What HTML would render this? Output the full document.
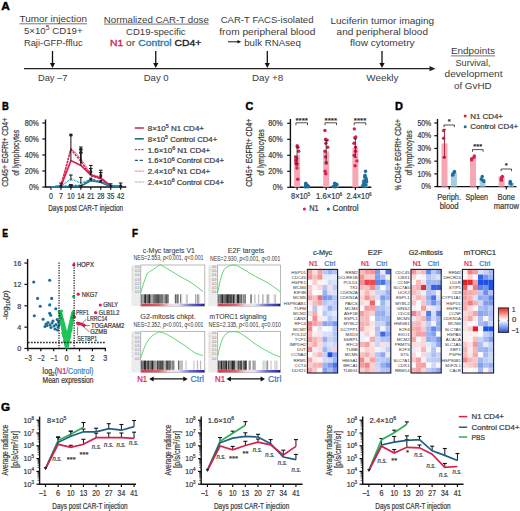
<!DOCTYPE html>
<html><head><meta charset="utf-8"><style>
html,body{margin:0;padding:0;background:#fff;width:520px;height:511px;overflow:hidden}
svg{display:block}
text{font-family:"Liberation Sans",sans-serif}
</style></head><body>
<svg width="520" height="511" viewBox="0 0 520 511" font-family="Liberation Sans, sans-serif" fill="#3b3b3b">
<rect width="520" height="511" fill="#fff"/>
<text x="1.20" y="9.60" font-size="11" textLength="8.60" lengthAdjust="spacingAndGlyphs" fill="#000" font-weight="bold" stroke="#000" stroke-width="0.45">A</text><text x="53.25" y="22.30" font-size="9.4" text-anchor="middle" textLength="67.50" lengthAdjust="spacingAndGlyphs">Tumor injection</text><line x1="19.50" y1="23.80" x2="87.00" y2="23.80" stroke="#3b3b3b" stroke-width="0.7" /><text x="53.25" y="33.90" font-size="9.4" text-anchor="middle" textLength="58.70" lengthAdjust="spacingAndGlyphs">5×10<tspan dy="-3.9" font-size="6.6">5</tspan><tspan dy="3.9"> CD19+</tspan></text><text x="53.25" y="45.50" font-size="9.4" text-anchor="middle" textLength="58.70" lengthAdjust="spacingAndGlyphs">Raji-GFP-ffluc</text><text x="156.30" y="22.80" font-size="9.4" text-anchor="middle" textLength="105.00" lengthAdjust="spacingAndGlyphs">Normalized CAR-T dose</text><line x1="103.80" y1="24.10" x2="208.75" y2="24.10" stroke="#3b3b3b" stroke-width="0.7" /><text x="155.80" y="34.90" font-size="9.4" text-anchor="middle" textLength="59.60" lengthAdjust="spacingAndGlyphs">CD19-specific</text><text x="110.00" y="46.40" font-size="9.4" textLength="91.20" lengthAdjust="spacingAndGlyphs"><tspan fill="#d8204e" stroke="#d8204e" stroke-width="0.35">N1</tspan> or <tspan fill="#2a80b0" stroke="#2a80b0" stroke-width="0.35">Control</tspan> <tspan fill="#222" stroke="#222" stroke-width="0.35">CD4+</tspan></text><text x="267.10" y="23.30" font-size="9.4" text-anchor="middle" textLength="92.80" lengthAdjust="spacingAndGlyphs">CAR-T FACS-isolated</text><text x="267.30" y="34.90" font-size="9.4" text-anchor="middle" textLength="96.00" lengthAdjust="spacingAndGlyphs">from peripheral blood</text><line x1="228.00" y1="41.80" x2="238.50" y2="41.80" stroke="#111" stroke-width="1" /><path d="M237.5,40 L241.2,41.8 L237.5,43.6 Z" stroke="none" stroke-width="1" fill="#111" /><text x="244.20" y="45.70" font-size="9.4" textLength="56.60" lengthAdjust="spacingAndGlyphs">bulk RNAseq</text><text x="382.30" y="23.80" font-size="9.4" text-anchor="middle" textLength="103.80" lengthAdjust="spacingAndGlyphs">Luciferin tumor imaging</text><text x="382.30" y="34.90" font-size="9.4" text-anchor="middle" textLength="91.40" lengthAdjust="spacingAndGlyphs">and peripheral blood</text><text x="382.30" y="45.70" font-size="9.4" text-anchor="middle" textLength="64.60" lengthAdjust="spacingAndGlyphs">flow cytometry</text><text x="473.00" y="54.20" font-size="9.4" text-anchor="middle" textLength="44.00" lengthAdjust="spacingAndGlyphs">Endpoints</text><line x1="451.00" y1="55.90" x2="495.00" y2="55.90" stroke="#3b3b3b" stroke-width="0.7" /><text x="473.00" y="66.30" font-size="9.4" text-anchor="middle" textLength="35.00" lengthAdjust="spacingAndGlyphs">Survival,</text><text x="473.50" y="77.00" font-size="9.4" text-anchor="middle" textLength="57.90" lengthAdjust="spacingAndGlyphs">development</text><text x="472.80" y="88.70" font-size="9.4" text-anchor="middle" textLength="37.70" lengthAdjust="spacingAndGlyphs">of GvHD</text><line x1="24.00" y1="68.70" x2="431.00" y2="68.70" stroke="#222" stroke-width="1.3" /><path d="M429.5,66.1 L435.5,68.7 L429.5,71.3 Z" stroke="none" stroke-width="1" fill="#222" /><line x1="52.50" y1="51.00" x2="52.50" y2="64.00" stroke="#111" stroke-width="1.3" /><path d="M49.90,63.00 L55.10,63.00 L52.50,68.00 Z" stroke="none" stroke-width="1" fill="#111" /><line x1="155.75" y1="51.00" x2="155.75" y2="64.00" stroke="#111" stroke-width="1.3" /><path d="M153.15,63.00 L158.35,63.00 L155.75,68.00 Z" stroke="none" stroke-width="1" fill="#111" /><line x1="267.30" y1="51.00" x2="267.30" y2="64.00" stroke="#111" stroke-width="1.3" /><path d="M264.70,63.00 L269.90,63.00 L267.30,68.00 Z" stroke="none" stroke-width="1" fill="#111" /><line x1="382.00" y1="51.00" x2="382.00" y2="64.00" stroke="#111" stroke-width="1.3" /><path d="M379.40,63.00 L384.60,63.00 L382.00,68.00 Z" stroke="none" stroke-width="1" fill="#111" /><text x="52.70" y="81.30" font-size="9.4" text-anchor="middle" textLength="29.50" lengthAdjust="spacingAndGlyphs">Day –7</text><text x="156.20" y="81.30" font-size="9.4" text-anchor="middle" textLength="25.00" lengthAdjust="spacingAndGlyphs">Day 0</text><text x="267.60" y="81.30" font-size="9.4" text-anchor="middle" textLength="31.30" lengthAdjust="spacingAndGlyphs">Day +8</text><text x="382.40" y="81.30" font-size="9.4" text-anchor="middle" textLength="32.20" lengthAdjust="spacingAndGlyphs">Weekly</text><text x="2.00" y="109.70" font-size="11" textLength="6.80" lengthAdjust="spacingAndGlyphs" fill="#000" font-weight="bold" stroke="#000" stroke-width="0.45">B</text><line x1="45.50" y1="119.50" x2="45.50" y2="187.50" stroke="#111" stroke-width="1.4" /><line x1="45.00" y1="187.00" x2="126.30" y2="187.00" stroke="#111" stroke-width="1.4" /><line x1="42.30" y1="187.00" x2="45.50" y2="187.00" stroke="#111" stroke-width="1.2" /><text x="38.90" y="189.70" font-size="8.5" text-anchor="end" textLength="9.90" lengthAdjust="spacingAndGlyphs" stroke="#3b3b3b" stroke-width="0.22">0%</text><line x1="42.30" y1="171.00" x2="45.50" y2="171.00" stroke="#111" stroke-width="1.2" /><text x="38.90" y="173.70" font-size="8.5" text-anchor="end" textLength="14.20" lengthAdjust="spacingAndGlyphs" stroke="#3b3b3b" stroke-width="0.22">20%</text><line x1="42.30" y1="155.00" x2="45.50" y2="155.00" stroke="#111" stroke-width="1.2" /><text x="38.90" y="157.70" font-size="8.5" text-anchor="end" textLength="14.20" lengthAdjust="spacingAndGlyphs" stroke="#3b3b3b" stroke-width="0.22">40%</text><line x1="42.30" y1="139.00" x2="45.50" y2="139.00" stroke="#111" stroke-width="1.2" /><text x="38.90" y="141.70" font-size="8.5" text-anchor="end" textLength="14.20" lengthAdjust="spacingAndGlyphs" stroke="#3b3b3b" stroke-width="0.22">60%</text><line x1="42.30" y1="123.00" x2="45.50" y2="123.00" stroke="#111" stroke-width="1.2" /><text x="38.90" y="125.70" font-size="8.5" text-anchor="end" textLength="14.20" lengthAdjust="spacingAndGlyphs" stroke="#3b3b3b" stroke-width="0.22">80%</text><line x1="51.00" y1="187.00" x2="51.00" y2="189.80" stroke="#111" stroke-width="1.2" /><text x="51.00" y="199.20" font-size="8.5" text-anchor="middle" textLength="4.00" lengthAdjust="spacingAndGlyphs" stroke="#3b3b3b" stroke-width="0.22">0</text><line x1="60.95" y1="187.00" x2="60.95" y2="189.80" stroke="#111" stroke-width="1.2" /><text x="60.95" y="199.20" font-size="8.5" text-anchor="middle" textLength="4.00" lengthAdjust="spacingAndGlyphs" stroke="#3b3b3b" stroke-width="0.22">7</text><line x1="70.90" y1="187.00" x2="70.90" y2="189.80" stroke="#111" stroke-width="1.2" /><text x="70.90" y="199.20" font-size="8.5" text-anchor="middle" textLength="7.20" lengthAdjust="spacingAndGlyphs" stroke="#3b3b3b" stroke-width="0.22">10</text><line x1="80.85" y1="187.00" x2="80.85" y2="189.80" stroke="#111" stroke-width="1.2" /><text x="80.85" y="199.20" font-size="8.5" text-anchor="middle" textLength="7.20" lengthAdjust="spacingAndGlyphs" stroke="#3b3b3b" stroke-width="0.22">14</text><line x1="90.80" y1="187.00" x2="90.80" y2="189.80" stroke="#111" stroke-width="1.2" /><text x="90.80" y="199.20" font-size="8.5" text-anchor="middle" textLength="7.20" lengthAdjust="spacingAndGlyphs" stroke="#3b3b3b" stroke-width="0.22">21</text><line x1="100.75" y1="187.00" x2="100.75" y2="189.80" stroke="#111" stroke-width="1.2" /><text x="100.75" y="199.20" font-size="8.5" text-anchor="middle" textLength="7.20" lengthAdjust="spacingAndGlyphs" stroke="#3b3b3b" stroke-width="0.22">28</text><line x1="110.70" y1="187.00" x2="110.70" y2="189.80" stroke="#111" stroke-width="1.2" /><text x="110.70" y="199.20" font-size="8.5" text-anchor="middle" textLength="7.20" lengthAdjust="spacingAndGlyphs" stroke="#3b3b3b" stroke-width="0.22">35</text><line x1="120.65" y1="187.00" x2="120.65" y2="189.80" stroke="#111" stroke-width="1.2" /><text x="120.65" y="199.20" font-size="8.5" text-anchor="middle" textLength="7.20" lengthAdjust="spacingAndGlyphs" stroke="#3b3b3b" stroke-width="0.22">42</text><text x="8.30" y="152.30" font-size="8.8" text-anchor="middle" textLength="69.00" lengthAdjust="spacingAndGlyphs" stroke="#3b3b3b" stroke-width="0.22" transform="rotate(-90 8.30 152.30)">CD45+ EGFRt+ CD4+</text><text x="18.80" y="152.80" font-size="8.8" text-anchor="middle" textLength="46.00" lengthAdjust="spacingAndGlyphs" stroke="#3b3b3b" stroke-width="0.22" transform="rotate(-90 18.80 152.80)">of lymphocytes</text><text x="85.70" y="211.40" font-size="8.5" text-anchor="middle" textLength="75.00" lengthAdjust="spacingAndGlyphs" stroke="#3b3b3b" stroke-width="0.22">Days post CAR-T injection</text><path d="M51.00,187.00 L60.95,186.20 L70.90,160.60 L80.85,165.40 L90.80,175.00 L100.75,178.20 L110.70,185.80 L120.65,186.36" stroke="#d8204e" stroke-width="1.7" fill="none" /><path d="M51.00,187.00 L60.95,186.20 L70.90,149.40 L80.85,161.40 L90.80,175.80 L100.75,179.00 L110.70,186.20 L120.65,186.60" stroke="#d8204e" stroke-width="1.5" fill="none" stroke-dasharray="2.2,1.2"/><path d="M51.00,187.00 L60.95,186.20 L70.90,148.60 L80.85,159.00 L90.80,174.20 L100.75,177.40 L110.70,186.20 L120.65,186.60" stroke="#d8204e" stroke-width="1.5" fill="none" stroke-dasharray="0.8,0.8"/><path d="M51.00,187.00 L60.95,186.76 L70.90,186.60 L80.85,186.20 L90.80,180.60 L100.75,182.20 L110.70,186.60 L120.65,186.76" stroke="#1f6f80" stroke-width="1.7" fill="none" /><path d="M51.00,187.00 L60.95,186.60 L70.90,185.40 L80.85,185.40 L90.80,179.00 L100.75,181.40 L110.70,186.20 L120.65,186.60" stroke="#2a7ab0" stroke-width="1.5" fill="none" stroke-dasharray="2.2,1.2"/><path d="M51.00,187.00 L60.95,186.20 L70.90,179.00 L80.85,183.00 L90.80,179.80 L100.75,182.20 L110.70,186.20 L120.65,186.60" stroke="#2a8ab0" stroke-width="1.5" fill="none" stroke-dasharray="0.8,0.8"/><line x1="70.90" y1="160.60" x2="70.90" y2="135.00" stroke="#111" stroke-width="1.0" /><line x1="69.10" y1="135.00" x2="72.70" y2="135.00" stroke="#111" stroke-width="1.0" /><line x1="80.85" y1="165.40" x2="80.85" y2="147.00" stroke="#111" stroke-width="1.0" /><line x1="79.05" y1="147.00" x2="82.65" y2="147.00" stroke="#111" stroke-width="1.0" /><line x1="80.85" y1="163.00" x2="80.85" y2="149.40" stroke="#111" stroke-width="1.0" /><line x1="79.05" y1="149.40" x2="82.65" y2="149.40" stroke="#111" stroke-width="1.0" /><line x1="80.85" y1="163.00" x2="80.85" y2="152.60" stroke="#111" stroke-width="1.0" /><line x1="79.05" y1="152.60" x2="82.65" y2="152.60" stroke="#111" stroke-width="1.0" /><line x1="90.80" y1="175.00" x2="90.80" y2="165.40" stroke="#111" stroke-width="1.0" /><line x1="89.00" y1="165.40" x2="92.60" y2="165.40" stroke="#111" stroke-width="1.0" /><line x1="90.80" y1="175.00" x2="90.80" y2="168.60" stroke="#111" stroke-width="1.0" /><line x1="89.00" y1="168.60" x2="92.60" y2="168.60" stroke="#111" stroke-width="1.0" /><line x1="100.75" y1="178.20" x2="100.75" y2="170.20" stroke="#111" stroke-width="1.0" /><line x1="98.95" y1="170.20" x2="102.55" y2="170.20" stroke="#111" stroke-width="1.0" /><line x1="100.75" y1="178.20" x2="100.75" y2="172.60" stroke="#111" stroke-width="1.0" /><line x1="98.95" y1="172.60" x2="102.55" y2="172.60" stroke="#111" stroke-width="1.0" /><line x1="110.70" y1="186.20" x2="110.70" y2="183.80" stroke="#111" stroke-width="1.0" /><line x1="108.90" y1="183.80" x2="112.50" y2="183.80" stroke="#111" stroke-width="1.0" /><line x1="120.65" y1="186.20" x2="120.65" y2="183.00" stroke="#111" stroke-width="1.0" /><line x1="118.85" y1="183.00" x2="122.45" y2="183.00" stroke="#111" stroke-width="1.0" /><line x1="60.95" y1="186.20" x2="60.95" y2="183.00" stroke="#111" stroke-width="1.0" /><line x1="59.15" y1="183.00" x2="62.75" y2="183.00" stroke="#111" stroke-width="1.0" /><line x1="70.90" y1="180.60" x2="70.90" y2="175.00" stroke="#111" stroke-width="1.0" /><line x1="69.10" y1="175.00" x2="72.70" y2="175.00" stroke="#111" stroke-width="1.0" /><line x1="80.85" y1="183.80" x2="80.85" y2="177.40" stroke="#111" stroke-width="1.0" /><line x1="79.05" y1="177.40" x2="82.65" y2="177.40" stroke="#111" stroke-width="1.0" /><line x1="70.90" y1="186.20" x2="70.90" y2="184.60" stroke="#111" stroke-width="1.0" /><line x1="69.10" y1="184.60" x2="72.70" y2="184.60" stroke="#111" stroke-width="1.0" /><rect x="69.50" y="133.60" width="2.80" height="2.80" fill="#222" /><rect x="79.45" y="148.00" width="2.80" height="2.80" fill="#222" /><rect x="79.45" y="151.20" width="2.80" height="2.80" fill="#222" /><rect x="89.40" y="170.40" width="2.80" height="2.80" fill="#222" /><rect x="99.35" y="174.40" width="2.80" height="2.80" fill="#222" /><rect x="69.50" y="184.00" width="2.80" height="2.80" fill="#222" /><rect x="89.40" y="177.60" width="2.80" height="2.80" fill="#222" /><rect x="99.35" y="180.00" width="2.80" height="2.80" fill="#222" /><rect x="109.30" y="184.80" width="2.80" height="2.80" fill="#222" /><rect x="119.25" y="184.80" width="2.80" height="2.80" fill="#222" /><rect x="59.55" y="184.80" width="2.80" height="2.80" fill="#222" /><rect x="69.50" y="185.20" width="2.80" height="2.80" fill="#222" /><rect x="79.45" y="184.80" width="2.80" height="2.80" fill="#222" /><line x1="134.80" y1="128.00" x2="143.80" y2="128.00" stroke="#c8305a" stroke-width="1.6" /><text x="147.70" y="130.90" font-size="7.4" textLength="56.30" lengthAdjust="spacingAndGlyphs" stroke="#3b3b3b" stroke-width="0.22">8×10<tspan dy="-2.8" font-size="5">5</tspan><tspan dy="2.8"> N1 CD4+</tspan></text><line x1="134.80" y1="138.80" x2="143.80" y2="138.80" stroke="#2a6e78" stroke-width="1.6" /><text x="147.70" y="141.70" font-size="7.4" textLength="69.50" lengthAdjust="spacingAndGlyphs" stroke="#3b3b3b" stroke-width="0.22">8×10<tspan dy="-2.8" font-size="5">5</tspan><tspan dy="2.8"> Control CD4+</tspan></text><line x1="134.80" y1="149.60" x2="143.80" y2="149.60" stroke="#c04868" stroke-width="1.2" stroke-dasharray="2.2,1.1"/><text x="147.70" y="152.50" font-size="7.4" textLength="62.50" lengthAdjust="spacingAndGlyphs" stroke="#3b3b3b" stroke-width="0.22">1.6×10<tspan dy="-2.8" font-size="5">6</tspan><tspan dy="2.8"> N1 CD4+</tspan></text><line x1="134.80" y1="160.40" x2="143.80" y2="160.40" stroke="#245e78" stroke-width="1.2" stroke-dasharray="3.2,1.6"/><text x="147.70" y="163.30" font-size="7.4" textLength="76.30" lengthAdjust="spacingAndGlyphs" stroke="#3b3b3b" stroke-width="0.22">1.6×10<tspan dy="-2.8" font-size="5">6</tspan><tspan dy="2.8"> Control CD4+</tspan></text><line x1="134.80" y1="171.20" x2="143.80" y2="171.20" stroke="#e07090" stroke-width="1.2" stroke-dasharray="0.8,0.6"/><text x="147.70" y="174.10" font-size="7.4" textLength="62.50" lengthAdjust="spacingAndGlyphs" stroke="#3b3b3b" stroke-width="0.22">2.4×10<tspan dy="-2.8" font-size="5">6</tspan><tspan dy="2.8"> N1 CD4+</tspan></text><line x1="134.80" y1="182.00" x2="143.80" y2="182.00" stroke="#8090a0" stroke-width="1.2" stroke-dasharray="0.8,0.6"/><text x="147.70" y="184.90" font-size="7.4" textLength="76.30" lengthAdjust="spacingAndGlyphs" stroke="#3b3b3b" stroke-width="0.22">2.4×10<tspan dy="-2.8" font-size="5">6</tspan><tspan dy="2.8"> Control CD4+</tspan></text><text x="245.50" y="110.00" font-size="11" textLength="7.80" lengthAdjust="spacingAndGlyphs" fill="#000" font-weight="bold" stroke="#000" stroke-width="0.45">C</text><line x1="290.40" y1="119.00" x2="290.40" y2="187.80" stroke="#111" stroke-width="1.4" /><line x1="289.90" y1="187.30" x2="371.30" y2="187.30" stroke="#111" stroke-width="1.4" /><line x1="287.20" y1="187.30" x2="290.40" y2="187.30" stroke="#111" stroke-width="1.2" /><text x="282.60" y="190.00" font-size="8.5" text-anchor="end" textLength="9.90" lengthAdjust="spacingAndGlyphs" stroke="#3b3b3b" stroke-width="0.22">0%</text><line x1="287.20" y1="171.30" x2="290.40" y2="171.30" stroke="#111" stroke-width="1.2" /><text x="282.60" y="174.00" font-size="8.5" text-anchor="end" textLength="14.40" lengthAdjust="spacingAndGlyphs" stroke="#3b3b3b" stroke-width="0.22">20%</text><line x1="287.20" y1="155.30" x2="290.40" y2="155.30" stroke="#111" stroke-width="1.2" /><text x="282.60" y="158.00" font-size="8.5" text-anchor="end" textLength="14.40" lengthAdjust="spacingAndGlyphs" stroke="#3b3b3b" stroke-width="0.22">40%</text><line x1="287.20" y1="139.30" x2="290.40" y2="139.30" stroke="#111" stroke-width="1.2" /><text x="282.60" y="142.00" font-size="8.5" text-anchor="end" textLength="14.40" lengthAdjust="spacingAndGlyphs" stroke="#3b3b3b" stroke-width="0.22">60%</text><line x1="287.20" y1="123.30" x2="290.40" y2="123.30" stroke="#111" stroke-width="1.2" /><text x="282.60" y="126.00" font-size="8.5" text-anchor="end" textLength="14.40" lengthAdjust="spacingAndGlyphs" stroke="#3b3b3b" stroke-width="0.22">80%</text><text x="252.50" y="152.80" font-size="8.8" text-anchor="middle" textLength="68.00" lengthAdjust="spacingAndGlyphs" stroke="#3b3b3b" stroke-width="0.22" transform="rotate(-90 252.50 152.80)">CD45+ EGFRt+ CD4+</text><text x="263.50" y="152.50" font-size="8.8" text-anchor="middle" textLength="46.70" lengthAdjust="spacingAndGlyphs" stroke="#3b3b3b" stroke-width="0.22" transform="rotate(-90 263.50 152.50)">of lymphocytes</text><rect x="294.10" y="155.30" width="6.00" height="32.00" fill="#f7a8b6" /><rect x="303.30" y="185.70" width="6.00" height="1.60" fill="#a9cde0" /><circle cx="297.18" cy="145.70" r="1.7" fill="#d8204e" /><circle cx="297.89" cy="147.30" r="1.7" fill="#d8204e" /><circle cx="298.65" cy="151.30" r="1.7" fill="#d8204e" /><circle cx="295.63" cy="156.90" r="1.7" fill="#d8204e" /><circle cx="296.53" cy="158.50" r="1.7" fill="#d8204e" /><circle cx="295.85" cy="160.10" r="1.7" fill="#d8204e" /><circle cx="296.03" cy="160.90" r="1.7" fill="#d8204e" /><circle cx="296.04" cy="163.30" r="1.7" fill="#d8204e" /><circle cx="296.76" cy="164.90" r="1.7" fill="#d8204e" /><circle cx="296.95" cy="168.10" r="1.7" fill="#d8204e" /><circle cx="297.77" cy="179.30" r="1.7" fill="#d8204e" /><circle cx="305.84" cy="183.30" r="1.7" fill="#1d6d9a" /><circle cx="305.56" cy="184.10" r="1.7" fill="#1d6d9a" /><circle cx="306.53" cy="184.90" r="1.7" fill="#1d6d9a" /><circle cx="306.50" cy="185.30" r="1.7" fill="#1d6d9a" /><circle cx="307.41" cy="185.70" r="1.7" fill="#1d6d9a" /><circle cx="308.44" cy="186.10" r="1.7" fill="#1d6d9a" /><circle cx="305.71" cy="186.50" r="1.7" fill="#1d6d9a" /><circle cx="308.02" cy="186.90" r="1.7" fill="#1d6d9a" /><circle cx="305.29" cy="186.90" r="1.7" fill="#1d6d9a" /><circle cx="305.98" cy="186.50" r="1.7" fill="#1d6d9a" /><circle cx="307.01" cy="185.70" r="1.7" fill="#1d6d9a" /><line x1="297.10" y1="163.70" x2="297.10" y2="146.90" stroke="#222" stroke-width="0.8" /><line x1="295.50" y1="146.90" x2="298.70" y2="146.90" stroke="#222" stroke-width="0.8" /><line x1="295.50" y1="163.70" x2="298.70" y2="163.70" stroke="#222" stroke-width="0.8" /><line x1="297.10" y1="187.30" x2="297.10" y2="190.10" stroke="#111" stroke-width="1.2" /><path d="M295.90,125.2 L295.90,122.8 L307.50,122.8 L307.50,125.2" stroke="#222" stroke-width="0.8" fill="none" /><text x="301.70" y="122.60" font-size="8" text-anchor="middle" textLength="12.50" lengthAdjust="spacingAndGlyphs" fill="#222" stroke="#222" stroke-width="0.22">****</text><rect x="323.20" y="151.30" width="6.00" height="36.00" fill="#f7a8b6" /><rect x="332.30" y="184.90" width="6.00" height="2.40" fill="#a9cde0" /><circle cx="324.93" cy="130.50" r="1.7" fill="#d8204e" /><circle cx="325.59" cy="139.30" r="1.7" fill="#d8204e" /><circle cx="327.17" cy="140.10" r="1.7" fill="#d8204e" /><circle cx="325.90" cy="143.30" r="1.7" fill="#d8204e" /><circle cx="327.69" cy="147.30" r="1.7" fill="#d8204e" /><circle cx="324.91" cy="151.30" r="1.7" fill="#d8204e" /><circle cx="325.44" cy="156.90" r="1.7" fill="#d8204e" /><circle cx="326.22" cy="163.30" r="1.7" fill="#d8204e" /><circle cx="325.14" cy="171.30" r="1.7" fill="#d8204e" /><circle cx="325.79" cy="173.70" r="1.7" fill="#d8204e" /><circle cx="334.67" cy="183.30" r="1.7" fill="#1d6d9a" /><circle cx="336.53" cy="184.10" r="1.7" fill="#1d6d9a" /><circle cx="336.83" cy="184.50" r="1.7" fill="#1d6d9a" /><circle cx="336.52" cy="184.90" r="1.7" fill="#1d6d9a" /><circle cx="334.46" cy="185.70" r="1.7" fill="#1d6d9a" /><circle cx="334.35" cy="186.10" r="1.7" fill="#1d6d9a" /><circle cx="333.30" cy="186.50" r="1.7" fill="#1d6d9a" /><circle cx="335.22" cy="186.90" r="1.7" fill="#1d6d9a" /><circle cx="334.85" cy="185.30" r="1.7" fill="#1d6d9a" /><line x1="326.20" y1="162.10" x2="326.20" y2="140.50" stroke="#222" stroke-width="0.8" /><line x1="324.60" y1="140.50" x2="327.80" y2="140.50" stroke="#222" stroke-width="0.8" /><line x1="324.60" y1="162.10" x2="327.80" y2="162.10" stroke="#222" stroke-width="0.8" /><line x1="326.20" y1="187.30" x2="326.20" y2="190.10" stroke="#111" stroke-width="1.2" /><path d="M325.00,125.2 L325.00,122.8 L336.50,122.8 L336.50,125.2" stroke="#222" stroke-width="0.8" fill="none" /><text x="330.75" y="122.60" font-size="8" text-anchor="middle" textLength="12.50" lengthAdjust="spacingAndGlyphs" fill="#222" stroke="#222" stroke-width="0.22">****</text><rect x="352.40" y="148.10" width="6.00" height="39.20" fill="#f7a8b6" /><rect x="361.60" y="180.90" width="6.00" height="6.40" fill="#a9cde0" /><circle cx="354.31" cy="128.90" r="1.7" fill="#d8204e" /><circle cx="355.77" cy="136.90" r="1.7" fill="#d8204e" /><circle cx="354.88" cy="137.70" r="1.7" fill="#d8204e" /><circle cx="353.96" cy="143.30" r="1.7" fill="#d8204e" /><circle cx="355.58" cy="147.30" r="1.7" fill="#d8204e" /><circle cx="355.51" cy="151.30" r="1.7" fill="#d8204e" /><circle cx="354.13" cy="155.30" r="1.7" fill="#d8204e" /><circle cx="356.86" cy="160.90" r="1.7" fill="#d8204e" /><circle cx="355.05" cy="165.70" r="1.7" fill="#d8204e" /><circle cx="365.54" cy="171.30" r="1.7" fill="#1d6d9a" /><circle cx="365.00" cy="175.30" r="1.7" fill="#1d6d9a" /><circle cx="364.56" cy="176.90" r="1.7" fill="#1d6d9a" /><circle cx="365.85" cy="177.70" r="1.7" fill="#1d6d9a" /><circle cx="366.22" cy="179.30" r="1.7" fill="#1d6d9a" /><circle cx="365.95" cy="180.10" r="1.7" fill="#1d6d9a" /><circle cx="363.81" cy="180.90" r="1.7" fill="#1d6d9a" /><circle cx="366.70" cy="181.70" r="1.7" fill="#1d6d9a" /><circle cx="363.96" cy="183.30" r="1.7" fill="#1d6d9a" /><circle cx="365.88" cy="184.90" r="1.7" fill="#1d6d9a" /><circle cx="363.86" cy="186.50" r="1.7" fill="#1d6d9a" /><circle cx="362.69" cy="185.70" r="1.7" fill="#1d6d9a" /><line x1="355.40" y1="157.30" x2="355.40" y2="138.90" stroke="#222" stroke-width="0.8" /><line x1="353.80" y1="138.90" x2="357.00" y2="138.90" stroke="#222" stroke-width="0.8" /><line x1="353.80" y1="157.30" x2="357.00" y2="157.30" stroke="#222" stroke-width="0.8" /><line x1="355.40" y1="187.30" x2="355.40" y2="190.10" stroke="#111" stroke-width="1.2" /><path d="M354.20,125.2 L354.20,122.8 L365.80,122.8 L365.80,125.2" stroke="#222" stroke-width="0.8" fill="none" /><text x="360.00" y="122.60" font-size="8" text-anchor="middle" textLength="12.50" lengthAdjust="spacingAndGlyphs" fill="#222" stroke="#222" stroke-width="0.22">****</text><text x="300.50" y="198.50" font-size="8.5" text-anchor="middle" textLength="19.00" lengthAdjust="spacingAndGlyphs" stroke="#3b3b3b" stroke-width="0.22">8×10<tspan dy="-2.6" font-size="4.6">5</tspan></text><text x="329.00" y="198.50" font-size="8.5" text-anchor="middle" textLength="26.00" lengthAdjust="spacingAndGlyphs" stroke="#3b3b3b" stroke-width="0.22">1.6×10<tspan dy="-2.6" font-size="4.6">6</tspan></text><text x="359.00" y="198.50" font-size="8.5" text-anchor="middle" textLength="25.00" lengthAdjust="spacingAndGlyphs" stroke="#3b3b3b" stroke-width="0.22">2.4×10<tspan dy="-2.6" font-size="4.6">6</tspan></text><circle cx="304.40" cy="208.90" r="1.5" fill="#d8204e" /><text x="309.20" y="211.00" font-size="8.8" textLength="9.50" lengthAdjust="spacingAndGlyphs" stroke="#3b3b3b" stroke-width="0.22">N1</text><circle cx="328.30" cy="208.90" r="1.5" fill="#1d6d9a" /><text x="332.60" y="211.00" font-size="8.8" textLength="26.00" lengthAdjust="spacingAndGlyphs" stroke="#3b3b3b" stroke-width="0.22">Control</text><text x="394.90" y="109.80" font-size="11" textLength="7.90" lengthAdjust="spacingAndGlyphs" fill="#000" font-weight="bold" stroke="#000" stroke-width="0.45">D</text><line x1="437.50" y1="119.00" x2="437.50" y2="187.10" stroke="#111" stroke-width="1.4" /><line x1="437.00" y1="186.60" x2="516.50" y2="186.60" stroke="#111" stroke-width="1.4" /><line x1="434.30" y1="186.60" x2="437.50" y2="186.60" stroke="#111" stroke-width="1.2" /><text x="431.20" y="189.30" font-size="8.5" text-anchor="end" textLength="9.90" lengthAdjust="spacingAndGlyphs" stroke="#3b3b3b" stroke-width="0.22">0%</text><line x1="434.30" y1="173.88" x2="437.50" y2="173.88" stroke="#111" stroke-width="1.2" /><text x="431.20" y="176.58" font-size="8.5" text-anchor="end" textLength="13.80" lengthAdjust="spacingAndGlyphs" stroke="#3b3b3b" stroke-width="0.22">10%</text><line x1="434.30" y1="161.16" x2="437.50" y2="161.16" stroke="#111" stroke-width="1.2" /><text x="431.20" y="163.86" font-size="8.5" text-anchor="end" textLength="13.80" lengthAdjust="spacingAndGlyphs" stroke="#3b3b3b" stroke-width="0.22">20%</text><line x1="434.30" y1="148.44" x2="437.50" y2="148.44" stroke="#111" stroke-width="1.2" /><text x="431.20" y="151.14" font-size="8.5" text-anchor="end" textLength="13.80" lengthAdjust="spacingAndGlyphs" stroke="#3b3b3b" stroke-width="0.22">30%</text><line x1="434.30" y1="135.72" x2="437.50" y2="135.72" stroke="#111" stroke-width="1.2" /><text x="431.20" y="138.42" font-size="8.5" text-anchor="end" textLength="13.80" lengthAdjust="spacingAndGlyphs" stroke="#3b3b3b" stroke-width="0.22">40%</text><line x1="434.30" y1="123.00" x2="437.50" y2="123.00" stroke="#111" stroke-width="1.2" /><text x="431.20" y="125.70" font-size="8.5" text-anchor="end" textLength="13.80" lengthAdjust="spacingAndGlyphs" stroke="#3b3b3b" stroke-width="0.22">50%</text><text x="401.40" y="154.80" font-size="8.8" text-anchor="middle" textLength="71.40" lengthAdjust="spacingAndGlyphs" stroke="#3b3b3b" stroke-width="0.22" transform="rotate(-90 401.40 154.80)">% CD45+ EGFRt+ CD4+</text><text x="412.00" y="153.00" font-size="8.8" text-anchor="middle" textLength="45.00" lengthAdjust="spacingAndGlyphs" stroke="#3b3b3b" stroke-width="0.22" transform="rotate(-90 412.00 153.00)">of lymphocytes</text><rect x="441.50" y="143.35" width="6.00" height="43.25" fill="#f7a8b6" /><rect x="450.90" y="172.61" width="6.00" height="13.99" fill="#a9cde0" /><circle cx="443.63" cy="130.63" r="1.7" fill="#d8204e" /><circle cx="443.64" cy="138.26" r="1.7" fill="#d8204e" /><circle cx="444.18" cy="157.34" r="1.7" fill="#d8204e" /><circle cx="454.45" cy="171.34" r="1.7" fill="#1d6d9a" /><circle cx="454.16" cy="172.61" r="1.7" fill="#1d6d9a" /><circle cx="452.98" cy="173.88" r="1.7" fill="#1d6d9a" /><circle cx="452.62" cy="175.15" r="1.7" fill="#1d6d9a" /><line x1="444.50" y1="157.34" x2="444.50" y2="129.36" stroke="#a01838" stroke-width="0.9" /><line x1="443.00" y1="129.36" x2="446.00" y2="129.36" stroke="#a01838" stroke-width="0.9" /><line x1="443.00" y1="157.34" x2="446.00" y2="157.34" stroke="#a01838" stroke-width="0.9" /><line x1="449.20" y1="186.60" x2="449.20" y2="189.40" stroke="#111" stroke-width="1.2" /><path d="M444.00,127.20 L444.00,125.00 L454.40,125.00 L454.40,127.20" stroke="#222" stroke-width="0.8" fill="none" /><text x="449.20" y="124.20" font-size="7" text-anchor="middle" textLength="3.00" lengthAdjust="spacingAndGlyphs" fill="#222" stroke="#222" stroke-width="0.22">*</text><rect x="470.00" y="157.34" width="6.00" height="29.26" fill="#f7a8b6" /><rect x="479.60" y="178.97" width="6.00" height="7.63" fill="#a9cde0" /><circle cx="474.30" cy="156.07" r="1.7" fill="#d8204e" /><circle cx="473.94" cy="157.34" r="1.7" fill="#d8204e" /><circle cx="471.92" cy="158.62" r="1.7" fill="#d8204e" /><circle cx="471.66" cy="159.89" r="1.7" fill="#d8204e" /><circle cx="482.25" cy="176.42" r="1.7" fill="#1d6d9a" /><circle cx="481.21" cy="178.97" r="1.7" fill="#1d6d9a" /><circle cx="482.78" cy="180.24" r="1.7" fill="#1d6d9a" /><circle cx="483.83" cy="181.51" r="1.7" fill="#1d6d9a" /><line x1="477.80" y1="186.60" x2="477.80" y2="189.40" stroke="#111" stroke-width="1.2" /><path d="M472.50,151.80 L472.50,149.60 L483.10,149.60 L483.10,151.80" stroke="#222" stroke-width="0.8" fill="none" /><text x="477.80" y="148.80" font-size="7" text-anchor="middle" textLength="9.00" lengthAdjust="spacingAndGlyphs" fill="#222" stroke="#222" stroke-width="0.22">***</text><rect x="498.60" y="176.42" width="6.00" height="10.18" fill="#f7a8b6" /><rect x="508.00" y="182.78" width="6.00" height="3.82" fill="#a9cde0" /><circle cx="502.32" cy="176.42" r="1.7" fill="#d8204e" /><circle cx="501.57" cy="177.70" r="1.7" fill="#d8204e" /><circle cx="501.27" cy="178.97" r="1.7" fill="#d8204e" /><circle cx="501.36" cy="180.24" r="1.7" fill="#d8204e" /><circle cx="510.26" cy="181.51" r="1.7" fill="#1d6d9a" /><circle cx="510.16" cy="182.78" r="1.7" fill="#1d6d9a" /><circle cx="511.08" cy="184.06" r="1.7" fill="#1d6d9a" /><line x1="506.30" y1="186.60" x2="506.30" y2="189.40" stroke="#111" stroke-width="1.2" /><path d="M501.10,171.20 L501.10,169.00 L511.50,169.00 L511.50,171.20" stroke="#222" stroke-width="0.8" fill="none" /><text x="506.30" y="168.20" font-size="7" text-anchor="middle" textLength="3.00" lengthAdjust="spacingAndGlyphs" fill="#222" stroke="#222" stroke-width="0.22">*</text><circle cx="465.20" cy="116.10" r="1.5" fill="#d8204e" /><text x="470.20" y="118.60" font-size="7.9" textLength="32.80" lengthAdjust="spacingAndGlyphs" stroke="#3b3b3b" stroke-width="0.22">N1 CD4+</text><circle cx="465.20" cy="126.70" r="1.5" fill="#1d6d9a" /><text x="470.20" y="128.90" font-size="7.9" textLength="48.00" lengthAdjust="spacingAndGlyphs" stroke="#3b3b3b" stroke-width="0.22">Control CD4+</text><text x="449.20" y="199.80" font-size="8.5" text-anchor="middle" textLength="23.70" lengthAdjust="spacingAndGlyphs" stroke="#3b3b3b" stroke-width="0.22">Periph.</text><text x="449.20" y="208.70" font-size="8.5" text-anchor="middle" textLength="19.00" lengthAdjust="spacingAndGlyphs" stroke="#3b3b3b" stroke-width="0.22">blood</text><text x="476.80" y="199.80" font-size="8.5" text-anchor="middle" textLength="22.50" lengthAdjust="spacingAndGlyphs" stroke="#3b3b3b" stroke-width="0.22">Spleen</text><text x="506.20" y="199.80" font-size="8.5" text-anchor="middle" textLength="17.30" lengthAdjust="spacingAndGlyphs" stroke="#3b3b3b" stroke-width="0.22">Bone</text><text x="506.40" y="208.70" font-size="8.5" text-anchor="middle" textLength="25.30" lengthAdjust="spacingAndGlyphs" stroke="#3b3b3b" stroke-width="0.22">marrow</text><text x="2.20" y="236.50" font-size="11" textLength="5.80" lengthAdjust="spacingAndGlyphs" fill="#000" font-weight="bold" stroke="#000" stroke-width="0.45">E</text><line x1="27.60" y1="259.00" x2="27.60" y2="349.00" stroke="#111" stroke-width="1.4" /><line x1="27.10" y1="348.50" x2="106.00" y2="348.50" stroke="#111" stroke-width="1.4" /><line x1="24.40" y1="348.50" x2="27.60" y2="348.50" stroke="#111" stroke-width="1.2" /><text x="21.20" y="351.30" font-size="7.6" text-anchor="end" textLength="4.00" lengthAdjust="spacingAndGlyphs" stroke="#3b3b3b" stroke-width="0.22">0</text><line x1="24.40" y1="327.14" x2="27.60" y2="327.14" stroke="#111" stroke-width="1.2" /><text x="21.20" y="329.94" font-size="7.6" text-anchor="end" textLength="4.00" lengthAdjust="spacingAndGlyphs" stroke="#3b3b3b" stroke-width="0.22">4</text><line x1="24.40" y1="305.78" x2="27.60" y2="305.78" stroke="#111" stroke-width="1.2" /><text x="21.20" y="308.58" font-size="7.6" text-anchor="end" textLength="4.00" lengthAdjust="spacingAndGlyphs" stroke="#3b3b3b" stroke-width="0.22">8</text><line x1="24.40" y1="284.42" x2="27.60" y2="284.42" stroke="#111" stroke-width="1.2" /><text x="21.20" y="287.22" font-size="7.6" text-anchor="end" textLength="7.60" lengthAdjust="spacingAndGlyphs" stroke="#3b3b3b" stroke-width="0.22">12</text><line x1="24.40" y1="263.06" x2="27.60" y2="263.06" stroke="#111" stroke-width="1.2" /><text x="21.20" y="265.86" font-size="7.6" text-anchor="end" textLength="7.60" lengthAdjust="spacingAndGlyphs" stroke="#3b3b3b" stroke-width="0.22">16</text><line x1="27.90" y1="348.50" x2="27.90" y2="351.30" stroke="#111" stroke-width="1.2" /><text x="28.30" y="361.00" font-size="8.2" text-anchor="middle" textLength="6.90" lengthAdjust="spacingAndGlyphs" stroke="#3b3b3b" stroke-width="0.22">−3</text><line x1="40.80" y1="348.50" x2="40.80" y2="351.30" stroke="#111" stroke-width="1.2" /><text x="41.20" y="361.00" font-size="8.2" text-anchor="middle" textLength="6.90" lengthAdjust="spacingAndGlyphs" stroke="#3b3b3b" stroke-width="0.22">−2</text><line x1="53.70" y1="348.50" x2="53.70" y2="351.30" stroke="#111" stroke-width="1.2" /><text x="54.10" y="361.00" font-size="8.2" text-anchor="middle" textLength="6.90" lengthAdjust="spacingAndGlyphs" stroke="#3b3b3b" stroke-width="0.22">−1</text><line x1="66.60" y1="348.50" x2="66.60" y2="351.30" stroke="#111" stroke-width="1.2" /><text x="66.60" y="361.00" font-size="8.2" text-anchor="middle" textLength="4.00" lengthAdjust="spacingAndGlyphs" stroke="#3b3b3b" stroke-width="0.22">0</text><line x1="79.50" y1="348.50" x2="79.50" y2="351.30" stroke="#111" stroke-width="1.2" /><text x="79.50" y="361.00" font-size="8.2" text-anchor="middle" textLength="4.00" lengthAdjust="spacingAndGlyphs" stroke="#3b3b3b" stroke-width="0.22">1</text><line x1="92.40" y1="348.50" x2="92.40" y2="351.30" stroke="#111" stroke-width="1.2" /><text x="92.40" y="361.00" font-size="8.2" text-anchor="middle" textLength="4.00" lengthAdjust="spacingAndGlyphs" stroke="#3b3b3b" stroke-width="0.22">2</text><line x1="105.30" y1="348.50" x2="105.30" y2="351.30" stroke="#111" stroke-width="1.2" /><text x="105.30" y="361.00" font-size="8.2" text-anchor="middle" textLength="4.00" lengthAdjust="spacingAndGlyphs" stroke="#3b3b3b" stroke-width="0.22">3</text><text x="8.20" y="305.00" font-size="6.8" text-anchor="middle" textLength="29.50" lengthAdjust="spacingAndGlyphs" stroke="#3b3b3b" stroke-width="0.22" transform="rotate(-90 8.20 305.00)">-log<tspan dy="1.6" font-size="4.6">10</tspan><tspan dy="-1.6">(</tspan><tspan font-style="italic">p</tspan>)</text><text x="68.00" y="373.80" font-size="8.4" text-anchor="middle" textLength="50.80" lengthAdjust="spacingAndGlyphs" stroke="#3b3b3b" stroke-width="0.22">log<tspan dy="1.8" font-size="5.4">2</tspan><tspan dy="-1.8">(</tspan><tspan fill="#d8204e" stroke="#d8204e">N1</tspan><tspan fill="#3a86c0" stroke="#3a86c0">/Control)</tspan></text><text x="68.00" y="383.20" font-size="8.4" text-anchor="middle" textLength="50.80" lengthAdjust="spacingAndGlyphs" stroke="#3b3b3b" stroke-width="0.22">Mean expression</text><path d="M57.8,311.0 L61.8,311.0 L67.0,331.0 L71.2,312.6 L75.2,312.8 L68.6,348.6 L65.0,348.6 Z" stroke="none" stroke-width="1" fill="#1fc45a" /><circle cx="61.15" cy="319.71" r="1.25" fill="#1fc45a" /><circle cx="71.24" cy="325.52" r="1.25" fill="#1fc45a" /><circle cx="62.70" cy="333.09" r="1.25" fill="#1fc45a" /><circle cx="73.73" cy="313.93" r="1.25" fill="#1fc45a" /><circle cx="60.73" cy="320.45" r="1.25" fill="#1fc45a" /><circle cx="67.37" cy="345.86" r="1.25" fill="#1fc45a" /><circle cx="64.74" cy="340.36" r="1.25" fill="#1fc45a" /><circle cx="68.86" cy="334.27" r="1.25" fill="#1fc45a" /><circle cx="64.20" cy="333.40" r="1.25" fill="#1fc45a" /><circle cx="70.60" cy="330.50" r="1.25" fill="#1fc45a" /><circle cx="62.98" cy="334.66" r="1.25" fill="#1fc45a" /><circle cx="68.97" cy="338.14" r="1.25" fill="#1fc45a" /><circle cx="60.62" cy="321.89" r="1.25" fill="#1fc45a" /><circle cx="68.13" cy="341.63" r="1.25" fill="#1fc45a" /><circle cx="64.74" cy="336.30" r="1.25" fill="#1fc45a" /><circle cx="69.82" cy="336.71" r="1.25" fill="#1fc45a" /><circle cx="62.59" cy="325.13" r="1.25" fill="#1fc45a" /><circle cx="71.41" cy="327.95" r="1.25" fill="#1fc45a" /><circle cx="64.32" cy="341.82" r="1.25" fill="#1fc45a" /><circle cx="71.90" cy="317.92" r="1.25" fill="#1fc45a" /><circle cx="65.47" cy="344.81" r="1.25" fill="#1fc45a" /><circle cx="69.21" cy="333.87" r="1.25" fill="#1fc45a" /><circle cx="62.54" cy="329.00" r="1.25" fill="#1fc45a" /><circle cx="71.32" cy="324.90" r="1.25" fill="#1fc45a" /><circle cx="63.95" cy="331.66" r="1.25" fill="#1fc45a" /><circle cx="70.02" cy="335.66" r="1.25" fill="#1fc45a" /><circle cx="65.79" cy="341.05" r="1.25" fill="#1fc45a" /><circle cx="68.70" cy="335.32" r="1.25" fill="#1fc45a" /><circle cx="65.77" cy="341.19" r="1.25" fill="#1fc45a" /><circle cx="68.08" cy="342.90" r="1.25" fill="#1fc45a" /><circle cx="63.51" cy="336.13" r="1.25" fill="#1fc45a" /><circle cx="68.51" cy="340.53" r="1.25" fill="#1fc45a" /><circle cx="60.58" cy="321.33" r="1.25" fill="#1fc45a" /><circle cx="69.13" cy="341.25" r="1.25" fill="#1fc45a" /><circle cx="60.69" cy="314.55" r="1.25" fill="#1fc45a" /><circle cx="70.19" cy="326.84" r="1.25" fill="#1fc45a" /><circle cx="61.91" cy="321.64" r="1.25" fill="#1fc45a" /><circle cx="67.32" cy="341.86" r="1.25" fill="#1fc45a" /><circle cx="62.59" cy="332.70" r="1.25" fill="#1fc45a" /><circle cx="68.73" cy="336.85" r="1.25" fill="#1fc45a" /><circle cx="65.93" cy="341.89" r="1.25" fill="#1fc45a" /><circle cx="71.17" cy="329.93" r="1.25" fill="#1fc45a" /><circle cx="60.76" cy="322.18" r="1.25" fill="#1fc45a" /><circle cx="68.88" cy="332.99" r="1.25" fill="#1fc45a" /><circle cx="60.66" cy="318.31" r="1.25" fill="#1fc45a" /><circle cx="69.04" cy="333.34" r="1.25" fill="#1fc45a" /><circle cx="60.53" cy="312.96" r="1.25" fill="#1fc45a" /><circle cx="72.21" cy="323.70" r="1.25" fill="#1fc45a" /><circle cx="64.94" cy="342.43" r="1.25" fill="#1fc45a" /><circle cx="70.57" cy="328.46" r="1.25" fill="#1fc45a" /><circle cx="63.76" cy="333.71" r="1.25" fill="#1fc45a" /><circle cx="70.17" cy="331.68" r="1.25" fill="#1fc45a" /><circle cx="59.30" cy="311.60" r="1.3" fill="#159a55" /><circle cx="60.60" cy="313.50" r="1.3" fill="#159a55" /><circle cx="59.80" cy="316.00" r="1.3" fill="#159a55" /><circle cx="61.20" cy="318.50" r="1.3" fill="#159a55" /><circle cx="72.80" cy="312.50" r="1.3" fill="#159a55" /><circle cx="73.60" cy="315.00" r="1.3" fill="#159a55" /><circle cx="72.20" cy="317.50" r="1.3" fill="#159a55" /><circle cx="33.70" cy="282.00" r="1.55" fill="#1d6d9a" /><circle cx="49.70" cy="280.20" r="1.55" fill="#1d6d9a" /><circle cx="37.60" cy="298.40" r="1.55" fill="#1d6d9a" /><circle cx="51.70" cy="298.40" r="1.55" fill="#1d6d9a" /><circle cx="40.20" cy="306.30" r="1.55" fill="#1d6d9a" /><circle cx="49.70" cy="304.90" r="1.55" fill="#1d6d9a" /><circle cx="55.80" cy="308.80" r="1.55" fill="#1d6d9a" /><circle cx="34.30" cy="315.70" r="1.55" fill="#1d6d9a" /><circle cx="49.70" cy="313.30" r="1.55" fill="#1d6d9a" /><circle cx="43.10" cy="319.20" r="1.55" fill="#1d6d9a" /><circle cx="50.70" cy="315.30" r="1.55" fill="#1d6d9a" /><circle cx="57.20" cy="319.60" r="1.55" fill="#1d6d9a" /><circle cx="46.00" cy="324.00" r="1.55" fill="#1d6d9a" /><circle cx="48.00" cy="322.50" r="1.55" fill="#1d6d9a" /><circle cx="50.00" cy="325.00" r="1.55" fill="#1d6d9a" /><circle cx="52.00" cy="323.00" r="1.55" fill="#1d6d9a" /><circle cx="54.00" cy="326.00" r="1.55" fill="#1d6d9a" /><circle cx="56.00" cy="324.50" r="1.55" fill="#1d6d9a" /><circle cx="58.00" cy="327.00" r="1.55" fill="#1d6d9a" /><circle cx="55.00" cy="329.00" r="1.55" fill="#1d6d9a" /><circle cx="57.50" cy="330.00" r="1.55" fill="#1d6d9a" /><circle cx="59.00" cy="325.00" r="1.55" fill="#1d6d9a" /><circle cx="47.00" cy="325.50" r="1.55" fill="#1d6d9a" /><circle cx="53.00" cy="321.00" r="1.55" fill="#1d6d9a" /><circle cx="58.50" cy="322.00" r="1.55" fill="#1d6d9a" /><circle cx="45.00" cy="326.50" r="1.55" fill="#1d6d9a" /><circle cx="51.00" cy="327.50" r="1.55" fill="#1d6d9a" /><circle cx="73.50" cy="296.50" r="1.6" fill="#1fc45a" /><circle cx="59.50" cy="311.50" r="1.6" fill="#1fc45a" /><circle cx="73.40" cy="311.50" r="1.6" fill="#1fc45a" /><circle cx="61.50" cy="311.00" r="1.6" fill="#1fc45a" /><circle cx="73.80" cy="264.80" r="1.6" fill="#d8204e" /><circle cx="78.20" cy="294.20" r="1.6" fill="#d8204e" /><circle cx="100.30" cy="305.00" r="1.6" fill="#d8204e" /><circle cx="95.60" cy="312.60" r="1.6" fill="#d8204e" /><circle cx="74.50" cy="317.00" r="1.6" fill="#d8204e" /><circle cx="77.60" cy="323.10" r="1.6" fill="#d8204e" /><circle cx="79.50" cy="323.60" r="1.6" fill="#d8204e" /><circle cx="81.50" cy="324.20" r="1.6" fill="#d8204e" /><circle cx="83.20" cy="324.80" r="1.6" fill="#d8204e" /><circle cx="84.20" cy="325.30" r="1.6" fill="#d8204e" /><circle cx="78.50" cy="323.90" r="1.6" fill="#d8204e" /><line x1="59.05" y1="262.60" x2="59.05" y2="348.50" stroke="#222" stroke-width="1.3" stroke-dasharray="1.2,1.3"/><line x1="74.15" y1="262.60" x2="74.15" y2="348.50" stroke="#222" stroke-width="1.3" stroke-dasharray="1.2,1.3"/><line x1="28.10" y1="342.50" x2="106.00" y2="342.50" stroke="#222" stroke-width="1.3" stroke-dasharray="1.6,1.4"/><text x="76.70" y="267.20" font-size="6.6" textLength="17.30" lengthAdjust="spacingAndGlyphs" stroke="#3b3b3b" stroke-width="0.22">HOPX</text><text x="81.70" y="296.50" font-size="6.6" textLength="15.90" lengthAdjust="spacingAndGlyphs" stroke="#3b3b3b" stroke-width="0.22">NKG7</text><text x="103.20" y="307.40" font-size="6.6" textLength="14.90" lengthAdjust="spacingAndGlyphs" stroke="#3b3b3b" stroke-width="0.22">GNLY</text><text x="98.80" y="315.00" font-size="6.6" textLength="20.50" lengthAdjust="spacingAndGlyphs" stroke="#3b3b3b" stroke-width="0.22">GLB1L2</text><text x="75.90" y="315.30" font-size="6.6" textLength="12.90" lengthAdjust="spacingAndGlyphs" stroke="#3b3b3b" stroke-width="0.22">PRF1</text><text x="87.00" y="321.40" font-size="6.6" textLength="20.30" lengthAdjust="spacingAndGlyphs" stroke="#3b3b3b" stroke-width="0.22">LRRC14</text><text x="90.90" y="327.90" font-size="6.6" textLength="33.30" lengthAdjust="spacingAndGlyphs" stroke="#3b3b3b" stroke-width="0.22">TOGARAM2</text><text x="90.20" y="334.40" font-size="6.6" textLength="17.00" lengthAdjust="spacingAndGlyphs" stroke="#3b3b3b" stroke-width="0.22">GZMB</text><text x="77.30" y="341.40" font-size="6.6" textLength="19.70" lengthAdjust="spacingAndGlyphs" stroke="#3b3b3b" stroke-width="0.22">SETBP1</text><line x1="82.30" y1="323.10" x2="86.40" y2="319.20" stroke="#333" stroke-width="0.6" /><line x1="85.30" y1="325.50" x2="90.00" y2="325.50" stroke="#333" stroke-width="0.6" /><line x1="82.30" y1="325.50" x2="89.40" y2="332.00" stroke="#333" stroke-width="0.6" /><line x1="77.60" y1="326.70" x2="77.60" y2="335.50" stroke="#333" stroke-width="0.6" /><text x="132.00" y="236.70" font-size="11" textLength="6.00" lengthAdjust="spacingAndGlyphs" fill="#000" font-weight="bold" stroke="#000" stroke-width="0.45">F</text><rect x="131.50" y="265.00" width="9.30" height="41.10" fill="#ececec" /><line x1="139.30" y1="267.00" x2="140.80" y2="267.00" stroke="#888" stroke-width="0.4" /><text x="139.00" y="268.00" font-size="2.8" text-anchor="end" textLength="4.00" lengthAdjust="spacingAndGlyphs" fill="#777">0.6</text><line x1="139.30" y1="271.20" x2="140.80" y2="271.20" stroke="#888" stroke-width="0.4" /><text x="139.00" y="272.20" font-size="2.8" text-anchor="end" textLength="4.00" lengthAdjust="spacingAndGlyphs" fill="#777">0.5</text><line x1="139.30" y1="275.40" x2="140.80" y2="275.40" stroke="#888" stroke-width="0.4" /><text x="139.00" y="276.40" font-size="2.8" text-anchor="end" textLength="4.00" lengthAdjust="spacingAndGlyphs" fill="#777">0.4</text><line x1="139.30" y1="279.60" x2="140.80" y2="279.60" stroke="#888" stroke-width="0.4" /><text x="139.00" y="280.60" font-size="2.8" text-anchor="end" textLength="4.00" lengthAdjust="spacingAndGlyphs" fill="#777">0.3</text><line x1="139.30" y1="283.80" x2="140.80" y2="283.80" stroke="#888" stroke-width="0.4" /><text x="139.00" y="284.80" font-size="2.8" text-anchor="end" textLength="4.00" lengthAdjust="spacingAndGlyphs" fill="#777">0.2</text><line x1="139.30" y1="288.00" x2="140.80" y2="288.00" stroke="#888" stroke-width="0.4" /><text x="139.00" y="289.00" font-size="2.8" text-anchor="end" textLength="4.00" lengthAdjust="spacingAndGlyphs" fill="#777">0.1</text><line x1="139.30" y1="292.20" x2="140.80" y2="292.20" stroke="#888" stroke-width="0.4" /><text x="139.00" y="293.20" font-size="2.8" text-anchor="end" textLength="4.00" lengthAdjust="spacingAndGlyphs" fill="#777">0.0</text><text x="133.30" y="279.00" font-size="2.4" text-anchor="middle" textLength="24.00" lengthAdjust="spacingAndGlyphs" fill="#aaa" transform="rotate(-90 133.30 279.00)">Enrichment score (ES)</text><rect x="140.80" y="265.00" width="64.00" height="41.10" fill="#fff" stroke="#9a9a9a" stroke-width="0.7"/><rect x="141.30" y="294.30" width="1.24" height="9.20" fill="rgb(80,80,80)" /><rect x="142.54" y="294.30" width="1.18" height="9.20" fill="rgb(170,170,170)" /><rect x="143.72" y="294.30" width="1.25" height="9.20" fill="rgb(80,80,80)" /><rect x="144.97" y="294.30" width="1.21" height="9.20" fill="rgb(40,40,40)" /><rect x="146.17" y="294.30" width="1.38" height="9.20" fill="rgb(120,120,120)" /><rect x="147.55" y="294.30" width="1.08" height="9.20" fill="rgb(40,40,40)" /><rect x="148.63" y="294.30" width="1.39" height="9.20" fill="rgb(40,40,40)" /><rect x="150.02" y="294.30" width="0.93" height="9.20" fill="rgb(120,120,120)" /><rect x="150.94" y="294.30" width="1.48" height="9.20" fill="rgb(170,170,170)" /><rect x="152.42" y="294.30" width="1.27" height="9.20" fill="rgb(120,120,120)" /><rect x="153.69" y="294.30" width="0.91" height="9.20" fill="rgb(40,40,40)" /><rect x="154.60" y="294.30" width="0.94" height="9.20" fill="rgb(80,80,80)" /><rect x="155.54" y="294.30" width="1.05" height="9.20" fill="rgb(40,40,40)" /><rect x="156.58" y="294.30" width="1.18" height="9.20" fill="rgb(40,40,40)" /><rect x="157.76" y="294.30" width="1.41" height="9.20" fill="rgb(80,80,80)" /><rect x="159.17" y="294.30" width="1.28" height="9.20" fill="rgb(80,80,80)" /><rect x="160.45" y="294.30" width="1.30" height="9.20" fill="rgb(80,80,80)" /><rect x="161.75" y="294.30" width="1.07" height="9.20" fill="rgb(80,80,80)" /><rect x="162.81" y="294.30" width="1.50" height="9.20" fill="rgb(170,170,170)" /><rect x="164.31" y="294.30" width="1.32" height="9.20" fill="rgb(120,120,120)" /><rect x="165.64" y="294.30" width="1.04" height="9.20" fill="rgb(40,40,40)" /><rect x="166.67" y="294.30" width="0.94" height="9.20" fill="rgb(40,40,40)" /><rect x="167.62" y="294.30" width="1.14" height="9.20" fill="rgb(120,120,120)" /><rect x="174.80" y="294.30" width="1.24" height="9.20" fill="rgb(100,100,100)" /><rect x="176.04" y="294.30" width="1.10" height="9.20" fill="rgb(155,155,155)" /><rect x="177.14" y="294.30" width="1.48" height="9.20" fill="rgb(100,100,100)" /><rect x="180.19" y="294.30" width="1.18" height="9.20" fill="rgb(100,100,100)" /><rect x="181.37" y="294.30" width="1.01" height="9.20" fill="rgb(220,220,220)" /><rect x="185.72" y="294.30" width="0.97" height="9.20" fill="rgb(205,205,205)" /><rect x="186.69" y="294.30" width="0.90" height="9.20" fill="rgb(170,170,170)" /><rect x="195.00" y="294.30" width="1.03" height="9.20" fill="rgb(170,170,170)" /><rect x="196.03" y="294.30" width="1.10" height="9.20" fill="rgb(220,220,220)" /><rect x="197.12" y="294.30" width="0.94" height="9.20" fill="rgb(150,150,150)" /><rect x="198.07" y="294.30" width="0.91" height="9.20" fill="rgb(170,170,170)" /><rect x="198.98" y="294.30" width="1.17" height="9.20" fill="rgb(220,220,220)" /><linearGradient id="cb11" x1="0" x2="1" y1="0" y2="0"><stop offset="0" stop-color="#d63848"/><stop offset="0.28" stop-color="#e06070"/><stop offset="0.45" stop-color="#f2d8dc"/><stop offset="0.58" stop-color="#e8e4f4"/><stop offset="0.78" stop-color="#6a6ad0"/><stop offset="0.97" stop-color="#3030b0"/><stop offset="1" stop-color="#101070"/></linearGradient><rect x="141.20" y="303.70" width="63.20" height="2.40" fill="url(#cb11)" /><path d="M140.80,292.64 C141.33,290.89 142.93,285.24 144.00,282.10 C145.07,278.97 146.35,275.50 147.20,273.83 C148.05,272.17 148.05,272.88 149.12,272.12 C150.19,271.37 151.89,270.41 153.60,269.27 C155.31,268.13 157.97,265.90 159.36,265.29 C160.75,264.67 158.61,263.81 161.92,265.57 C165.23,267.33 174.19,272.88 179.20,275.83 C184.21,278.77 188.05,280.63 192.00,283.24 C195.95,285.85 201.07,290.13 202.88,291.50" stroke="#4fd060" stroke-width="0.9" fill="none" /><text x="168.90" y="252.80" font-size="7.9" text-anchor="middle" textLength="52.20" lengthAdjust="spacingAndGlyphs" fill="#404040" stroke="#404040" stroke-width="0.1">c-Myc targets V1</text><text x="133.50" y="260.30" font-size="6.8" textLength="69.90" lengthAdjust="spacingAndGlyphs" fill="#404040" stroke="#404040" stroke-width="0.04">NES=2.553, <tspan font-style="italic">p</tspan>&lt;0.001, <tspan font-style="italic">q</tspan>&lt;0.001</text><rect x="208.40" y="265.00" width="9.30" height="41.10" fill="#ececec" /><line x1="216.20" y1="267.00" x2="217.70" y2="267.00" stroke="#888" stroke-width="0.4" /><text x="215.90" y="268.00" font-size="2.8" text-anchor="end" textLength="4.00" lengthAdjust="spacingAndGlyphs" fill="#777">0.6</text><line x1="216.20" y1="271.20" x2="217.70" y2="271.20" stroke="#888" stroke-width="0.4" /><text x="215.90" y="272.20" font-size="2.8" text-anchor="end" textLength="4.00" lengthAdjust="spacingAndGlyphs" fill="#777">0.5</text><line x1="216.20" y1="275.40" x2="217.70" y2="275.40" stroke="#888" stroke-width="0.4" /><text x="215.90" y="276.40" font-size="2.8" text-anchor="end" textLength="4.00" lengthAdjust="spacingAndGlyphs" fill="#777">0.4</text><line x1="216.20" y1="279.60" x2="217.70" y2="279.60" stroke="#888" stroke-width="0.4" /><text x="215.90" y="280.60" font-size="2.8" text-anchor="end" textLength="4.00" lengthAdjust="spacingAndGlyphs" fill="#777">0.3</text><line x1="216.20" y1="283.80" x2="217.70" y2="283.80" stroke="#888" stroke-width="0.4" /><text x="215.90" y="284.80" font-size="2.8" text-anchor="end" textLength="4.00" lengthAdjust="spacingAndGlyphs" fill="#777">0.2</text><line x1="216.20" y1="288.00" x2="217.70" y2="288.00" stroke="#888" stroke-width="0.4" /><text x="215.90" y="289.00" font-size="2.8" text-anchor="end" textLength="4.00" lengthAdjust="spacingAndGlyphs" fill="#777">0.1</text><line x1="216.20" y1="292.20" x2="217.70" y2="292.20" stroke="#888" stroke-width="0.4" /><text x="215.90" y="293.20" font-size="2.8" text-anchor="end" textLength="4.00" lengthAdjust="spacingAndGlyphs" fill="#777">0.0</text><text x="210.20" y="279.00" font-size="2.4" text-anchor="middle" textLength="24.00" lengthAdjust="spacingAndGlyphs" fill="#aaa" transform="rotate(-90 210.20 279.00)">Enrichment score (ES)</text><rect x="217.70" y="265.00" width="62.90" height="41.10" fill="#fff" stroke="#9a9a9a" stroke-width="0.7"/><rect x="218.20" y="294.30" width="1.29" height="9.20" fill="rgb(80,80,80)" /><rect x="219.49" y="294.30" width="0.99" height="9.20" fill="rgb(120,120,120)" /><rect x="220.48" y="294.30" width="1.12" height="9.20" fill="rgb(40,40,40)" /><rect x="221.60" y="294.30" width="1.39" height="9.20" fill="rgb(40,40,40)" /><rect x="222.99" y="294.30" width="1.26" height="9.20" fill="rgb(120,120,120)" /><rect x="224.25" y="294.30" width="1.30" height="9.20" fill="rgb(80,80,80)" /><rect x="225.55" y="294.30" width="1.16" height="9.20" fill="rgb(40,40,40)" /><rect x="226.71" y="294.30" width="1.44" height="9.20" fill="rgb(40,40,40)" /><rect x="228.16" y="294.30" width="1.39" height="9.20" fill="rgb(40,40,40)" /><rect x="229.55" y="294.30" width="1.31" height="9.20" fill="rgb(40,40,40)" /><rect x="230.86" y="294.30" width="1.14" height="9.20" fill="rgb(80,80,80)" /><rect x="232.00" y="294.30" width="0.91" height="9.20" fill="rgb(120,120,120)" /><rect x="232.91" y="294.30" width="1.45" height="9.20" fill="rgb(40,40,40)" /><rect x="234.36" y="294.30" width="0.95" height="9.20" fill="rgb(80,80,80)" /><rect x="235.32" y="294.30" width="1.47" height="9.20" fill="rgb(170,170,170)" /><rect x="236.79" y="294.30" width="1.15" height="9.20" fill="rgb(40,40,40)" /><rect x="237.94" y="294.30" width="1.09" height="9.20" fill="rgb(40,40,40)" /><rect x="239.03" y="294.30" width="1.00" height="9.20" fill="rgb(120,120,120)" /><rect x="240.02" y="294.30" width="0.93" height="9.20" fill="rgb(120,120,120)" /><rect x="240.96" y="294.30" width="1.14" height="9.20" fill="rgb(100,100,100)" /><rect x="242.10" y="294.30" width="1.19" height="9.20" fill="rgb(180,180,180)" /><rect x="243.28" y="294.30" width="1.28" height="9.20" fill="rgb(100,100,100)" /><rect x="244.57" y="294.30" width="1.49" height="9.20" fill="rgb(130,130,130)" /><rect x="249.97" y="294.30" width="1.12" height="9.20" fill="rgb(155,155,155)" /><rect x="251.09" y="294.30" width="0.92" height="9.20" fill="rgb(130,130,130)" /><rect x="254.05" y="294.30" width="0.93" height="9.20" fill="rgb(205,205,205)" /><rect x="254.98" y="294.30" width="0.96" height="9.20" fill="rgb(220,220,220)" /><rect x="258.02" y="294.30" width="1.20" height="9.20" fill="rgb(190,190,190)" /><rect x="262.02" y="294.30" width="1.07" height="9.20" fill="rgb(190,190,190)" /><rect x="263.09" y="294.30" width="1.04" height="9.20" fill="rgb(205,205,205)" /><rect x="266.56" y="294.30" width="1.45" height="9.20" fill="rgb(170,170,170)" /><rect x="268.01" y="294.30" width="1.45" height="9.20" fill="rgb(190,190,190)" /><rect x="273.44" y="294.30" width="1.20" height="9.20" fill="rgb(220,220,220)" /><rect x="274.64" y="294.30" width="1.43" height="9.20" fill="rgb(190,190,190)" /><linearGradient id="cb12" x1="0" x2="1" y1="0" y2="0"><stop offset="0" stop-color="#d63848"/><stop offset="0.28" stop-color="#e06070"/><stop offset="0.45" stop-color="#f2d8dc"/><stop offset="0.58" stop-color="#e8e4f4"/><stop offset="0.78" stop-color="#6a6ad0"/><stop offset="0.97" stop-color="#3030b0"/><stop offset="1" stop-color="#101070"/></linearGradient><rect x="218.10" y="303.70" width="62.10" height="2.40" fill="url(#cb12)" /><path d="M217.70,292.64 C218.12,290.65 219.17,284.48 220.22,280.68 C221.26,276.88 222.63,272.22 223.99,269.85 C225.35,267.47 226.93,267.23 228.39,266.43 C229.86,265.62 231.12,265.00 232.80,265.00 C234.47,265.00 234.68,264.53 238.46,266.43 C242.23,268.32 250.51,273.64 255.44,276.40 C260.37,279.15 263.93,280.44 268.02,282.95 C272.11,285.47 277.98,290.08 279.97,291.50" stroke="#4fd060" stroke-width="0.9" fill="none" /><text x="246.00" y="252.60" font-size="7.9" text-anchor="middle" textLength="36.40" lengthAdjust="spacingAndGlyphs" fill="#404040" stroke="#404040" stroke-width="0.1">E2F targets</text><text x="209.90" y="261.00" font-size="6.8" textLength="70.50" lengthAdjust="spacingAndGlyphs" fill="#404040" stroke="#404040" stroke-width="0.04">NES=2.930, <tspan font-style="italic">p</tspan>&lt;0.001, <tspan font-style="italic">q</tspan>&lt;0.001</text><rect x="131.50" y="331.30" width="9.30" height="41.10" fill="#ececec" /><line x1="139.30" y1="333.30" x2="140.80" y2="333.30" stroke="#888" stroke-width="0.4" /><text x="139.00" y="334.30" font-size="2.8" text-anchor="end" textLength="4.00" lengthAdjust="spacingAndGlyphs" fill="#777">0.6</text><line x1="139.30" y1="337.50" x2="140.80" y2="337.50" stroke="#888" stroke-width="0.4" /><text x="139.00" y="338.50" font-size="2.8" text-anchor="end" textLength="4.00" lengthAdjust="spacingAndGlyphs" fill="#777">0.5</text><line x1="139.30" y1="341.70" x2="140.80" y2="341.70" stroke="#888" stroke-width="0.4" /><text x="139.00" y="342.70" font-size="2.8" text-anchor="end" textLength="4.00" lengthAdjust="spacingAndGlyphs" fill="#777">0.4</text><line x1="139.30" y1="345.90" x2="140.80" y2="345.90" stroke="#888" stroke-width="0.4" /><text x="139.00" y="346.90" font-size="2.8" text-anchor="end" textLength="4.00" lengthAdjust="spacingAndGlyphs" fill="#777">0.3</text><line x1="139.30" y1="350.10" x2="140.80" y2="350.10" stroke="#888" stroke-width="0.4" /><text x="139.00" y="351.10" font-size="2.8" text-anchor="end" textLength="4.00" lengthAdjust="spacingAndGlyphs" fill="#777">0.2</text><line x1="139.30" y1="354.30" x2="140.80" y2="354.30" stroke="#888" stroke-width="0.4" /><text x="139.00" y="355.30" font-size="2.8" text-anchor="end" textLength="4.00" lengthAdjust="spacingAndGlyphs" fill="#777">0.1</text><line x1="139.30" y1="358.50" x2="140.80" y2="358.50" stroke="#888" stroke-width="0.4" /><text x="139.00" y="359.50" font-size="2.8" text-anchor="end" textLength="4.00" lengthAdjust="spacingAndGlyphs" fill="#777">0.0</text><text x="133.30" y="345.30" font-size="2.4" text-anchor="middle" textLength="24.00" lengthAdjust="spacingAndGlyphs" fill="#aaa" transform="rotate(-90 133.30 345.30)">Enrichment score (ES)</text><rect x="140.80" y="331.30" width="64.00" height="41.10" fill="#fff" stroke="#9a9a9a" stroke-width="0.7"/><rect x="141.30" y="360.60" width="1.31" height="9.20" fill="rgb(40,40,40)" /><rect x="142.61" y="360.60" width="1.41" height="9.20" fill="rgb(120,120,120)" /><rect x="144.02" y="360.60" width="1.04" height="9.20" fill="rgb(40,40,40)" /><rect x="145.06" y="360.60" width="1.04" height="9.20" fill="rgb(40,40,40)" /><rect x="146.09" y="360.60" width="0.98" height="9.20" fill="rgb(120,120,120)" /><rect x="147.07" y="360.60" width="1.03" height="9.20" fill="rgb(80,80,80)" /><rect x="148.10" y="360.60" width="1.16" height="9.20" fill="rgb(40,40,40)" /><rect x="149.26" y="360.60" width="1.27" height="9.20" fill="rgb(120,120,120)" /><rect x="150.52" y="360.60" width="1.07" height="9.20" fill="rgb(40,40,40)" /><rect x="151.59" y="360.60" width="1.42" height="9.20" fill="rgb(40,40,40)" /><rect x="153.01" y="360.60" width="1.38" height="9.20" fill="rgb(120,120,120)" /><rect x="154.40" y="360.60" width="1.35" height="9.20" fill="rgb(120,120,120)" /><rect x="155.74" y="360.60" width="1.38" height="9.20" fill="rgb(170,170,170)" /><rect x="157.12" y="360.60" width="1.41" height="9.20" fill="rgb(40,40,40)" /><rect x="158.53" y="360.60" width="1.35" height="9.20" fill="rgb(80,80,80)" /><rect x="159.88" y="360.60" width="1.16" height="9.20" fill="rgb(80,80,80)" /><rect x="161.04" y="360.60" width="1.16" height="9.20" fill="rgb(80,80,80)" /><rect x="162.20" y="360.60" width="0.97" height="9.20" fill="rgb(40,40,40)" /><rect x="163.17" y="360.60" width="1.38" height="9.20" fill="rgb(120,120,120)" /><rect x="164.55" y="360.60" width="1.31" height="9.20" fill="rgb(170,170,170)" /><rect x="165.86" y="360.60" width="1.35" height="9.20" fill="rgb(80,80,80)" /><rect x="167.21" y="360.60" width="1.31" height="9.20" fill="rgb(40,40,40)" /><rect x="168.52" y="360.60" width="1.01" height="9.20" fill="rgb(80,80,80)" /><rect x="169.52" y="360.60" width="1.21" height="9.20" fill="rgb(40,40,40)" /><rect x="170.74" y="360.60" width="1.06" height="9.20" fill="rgb(180,180,180)" /><rect x="171.79" y="360.60" width="1.25" height="9.20" fill="rgb(130,130,130)" /><rect x="173.04" y="360.60" width="1.43" height="9.20" fill="rgb(130,130,130)" /><rect x="177.93" y="360.60" width="1.03" height="9.20" fill="rgb(100,100,100)" /><rect x="178.96" y="360.60" width="1.28" height="9.20" fill="rgb(180,180,180)" /><rect x="180.24" y="360.60" width="1.34" height="9.20" fill="rgb(180,180,180)" /><rect x="181.59" y="360.60" width="1.02" height="9.20" fill="rgb(155,155,155)" /><rect x="185.00" y="360.60" width="1.04" height="9.20" fill="rgb(220,220,220)" /><rect x="186.04" y="360.60" width="0.93" height="9.20" fill="rgb(220,220,220)" /><rect x="193.34" y="360.60" width="1.29" height="9.20" fill="rgb(205,205,205)" /><rect x="196.86" y="360.60" width="1.29" height="9.20" fill="rgb(190,190,190)" /><rect x="199.93" y="360.60" width="1.24" height="9.20" fill="rgb(190,190,190)" /><linearGradient id="cb13" x1="0" x2="1" y1="0" y2="0"><stop offset="0" stop-color="#d63848"/><stop offset="0.28" stop-color="#e06070"/><stop offset="0.45" stop-color="#f2d8dc"/><stop offset="0.58" stop-color="#e8e4f4"/><stop offset="0.78" stop-color="#6a6ad0"/><stop offset="0.97" stop-color="#3030b0"/><stop offset="1" stop-color="#101070"/></linearGradient><rect x="141.20" y="370.00" width="63.20" height="2.40" fill="url(#cb13)" /><path d="M140.80,357.52 C141.55,355.53 143.68,348.88 145.28,345.55 C146.88,342.23 148.48,339.66 150.40,337.57 C152.32,335.48 155.20,333.91 156.80,333.01 C158.40,332.11 158.40,331.97 160.00,332.16 C161.60,332.35 163.73,332.87 166.40,334.15 C169.07,335.43 172.80,337.86 176.00,339.85 C179.20,341.85 182.40,343.94 185.60,346.12 C188.80,348.31 192.32,351.39 195.20,352.96 C198.08,354.53 201.60,355.10 202.88,355.53" stroke="#4fd060" stroke-width="0.9" fill="none" /><text x="168.00" y="319.20" font-size="7.9" text-anchor="middle" textLength="55.40" lengthAdjust="spacingAndGlyphs" fill="#404040" stroke="#404040" stroke-width="0.1">G2-mitosis chkpt.</text><text x="133.50" y="326.50" font-size="6.8" textLength="69.90" lengthAdjust="spacingAndGlyphs" fill="#404040" stroke="#404040" stroke-width="0.04">NES=2.352, <tspan font-style="italic">p</tspan>&lt;0.001, <tspan font-style="italic">q</tspan>&lt;0.001</text><rect x="208.40" y="331.30" width="9.30" height="41.10" fill="#ececec" /><line x1="216.20" y1="333.30" x2="217.70" y2="333.30" stroke="#888" stroke-width="0.4" /><text x="215.90" y="334.30" font-size="2.8" text-anchor="end" textLength="4.00" lengthAdjust="spacingAndGlyphs" fill="#777">0.6</text><line x1="216.20" y1="337.50" x2="217.70" y2="337.50" stroke="#888" stroke-width="0.4" /><text x="215.90" y="338.50" font-size="2.8" text-anchor="end" textLength="4.00" lengthAdjust="spacingAndGlyphs" fill="#777">0.5</text><line x1="216.20" y1="341.70" x2="217.70" y2="341.70" stroke="#888" stroke-width="0.4" /><text x="215.90" y="342.70" font-size="2.8" text-anchor="end" textLength="4.00" lengthAdjust="spacingAndGlyphs" fill="#777">0.4</text><line x1="216.20" y1="345.90" x2="217.70" y2="345.90" stroke="#888" stroke-width="0.4" /><text x="215.90" y="346.90" font-size="2.8" text-anchor="end" textLength="4.00" lengthAdjust="spacingAndGlyphs" fill="#777">0.3</text><line x1="216.20" y1="350.10" x2="217.70" y2="350.10" stroke="#888" stroke-width="0.4" /><text x="215.90" y="351.10" font-size="2.8" text-anchor="end" textLength="4.00" lengthAdjust="spacingAndGlyphs" fill="#777">0.2</text><line x1="216.20" y1="354.30" x2="217.70" y2="354.30" stroke="#888" stroke-width="0.4" /><text x="215.90" y="355.30" font-size="2.8" text-anchor="end" textLength="4.00" lengthAdjust="spacingAndGlyphs" fill="#777">0.1</text><line x1="216.20" y1="358.50" x2="217.70" y2="358.50" stroke="#888" stroke-width="0.4" /><text x="215.90" y="359.50" font-size="2.8" text-anchor="end" textLength="4.00" lengthAdjust="spacingAndGlyphs" fill="#777">0.0</text><text x="210.20" y="345.30" font-size="2.4" text-anchor="middle" textLength="24.00" lengthAdjust="spacingAndGlyphs" fill="#aaa" transform="rotate(-90 210.20 345.30)">Enrichment score (ES)</text><rect x="217.70" y="331.30" width="62.90" height="41.10" fill="#fff" stroke="#9a9a9a" stroke-width="0.7"/><rect x="218.20" y="360.60" width="1.32" height="9.20" fill="rgb(40,40,40)" /><rect x="219.52" y="360.60" width="1.46" height="9.20" fill="rgb(120,120,120)" /><rect x="220.99" y="360.60" width="1.05" height="9.20" fill="rgb(40,40,40)" /><rect x="222.04" y="360.60" width="1.30" height="9.20" fill="rgb(120,120,120)" /><rect x="223.33" y="360.60" width="1.31" height="9.20" fill="rgb(40,40,40)" /><rect x="224.64" y="360.60" width="1.37" height="9.20" fill="rgb(80,80,80)" /><rect x="226.01" y="360.60" width="1.03" height="9.20" fill="rgb(40,40,40)" /><rect x="227.05" y="360.60" width="1.11" height="9.20" fill="rgb(170,170,170)" /><rect x="228.16" y="360.60" width="1.38" height="9.20" fill="rgb(40,40,40)" /><rect x="229.54" y="360.60" width="0.99" height="9.20" fill="rgb(120,120,120)" /><rect x="230.53" y="360.60" width="1.30" height="9.20" fill="rgb(80,80,80)" /><rect x="231.83" y="360.60" width="1.29" height="9.20" fill="rgb(40,40,40)" /><rect x="233.12" y="360.60" width="1.10" height="9.20" fill="rgb(40,40,40)" /><rect x="234.22" y="360.60" width="1.02" height="9.20" fill="rgb(40,40,40)" /><rect x="235.25" y="360.60" width="1.14" height="9.20" fill="rgb(170,170,170)" /><rect x="236.39" y="360.60" width="1.16" height="9.20" fill="rgb(170,170,170)" /><rect x="237.55" y="360.60" width="1.42" height="9.20" fill="rgb(80,80,80)" /><rect x="238.98" y="360.60" width="0.97" height="9.20" fill="rgb(120,120,120)" /><rect x="239.94" y="360.60" width="1.28" height="9.20" fill="rgb(80,80,80)" /><rect x="241.22" y="360.60" width="0.96" height="9.20" fill="rgb(40,40,40)" /><rect x="242.18" y="360.60" width="1.21" height="9.20" fill="rgb(170,170,170)" /><rect x="243.39" y="360.60" width="1.17" height="9.20" fill="rgb(40,40,40)" /><rect x="244.56" y="360.60" width="1.38" height="9.20" fill="rgb(40,40,40)" /><rect x="245.94" y="360.60" width="0.96" height="9.20" fill="rgb(80,80,80)" /><rect x="248.46" y="360.60" width="0.97" height="9.20" fill="rgb(180,180,180)" /><rect x="249.43" y="360.60" width="1.16" height="9.20" fill="rgb(100,100,100)" /><rect x="252.28" y="360.60" width="1.16" height="9.20" fill="rgb(180,180,180)" /><rect x="253.44" y="360.60" width="1.05" height="9.20" fill="rgb(100,100,100)" /><rect x="254.50" y="360.60" width="1.42" height="9.20" fill="rgb(180,180,180)" /><rect x="262.32" y="360.60" width="1.12" height="9.20" fill="rgb(220,220,220)" /><rect x="263.44" y="360.60" width="1.08" height="9.20" fill="rgb(190,190,190)" /><rect x="264.52" y="360.60" width="1.18" height="9.20" fill="rgb(220,220,220)" /><rect x="265.71" y="360.60" width="0.96" height="9.20" fill="rgb(205,205,205)" /><rect x="266.66" y="360.60" width="1.49" height="9.20" fill="rgb(150,150,150)" /><rect x="270.54" y="360.60" width="0.97" height="9.20" fill="rgb(190,190,190)" /><rect x="274.07" y="360.60" width="1.06" height="9.20" fill="rgb(220,220,220)" /><rect x="275.13" y="360.60" width="1.31" height="9.20" fill="rgb(220,220,220)" /><rect x="276.44" y="360.60" width="0.92" height="9.20" fill="rgb(190,190,190)" /><linearGradient id="cb14" x1="0" x2="1" y1="0" y2="0"><stop offset="0" stop-color="#d63848"/><stop offset="0.28" stop-color="#e06070"/><stop offset="0.45" stop-color="#f2d8dc"/><stop offset="0.58" stop-color="#e8e4f4"/><stop offset="0.78" stop-color="#6a6ad0"/><stop offset="0.97" stop-color="#3030b0"/><stop offset="1" stop-color="#101070"/></linearGradient><rect x="218.10" y="370.00" width="62.10" height="2.40" fill="url(#cb14)" /><path d="M217.70,355.53 C218.43,352.91 220.53,343.60 222.10,339.85 C223.68,336.10 225.56,334.34 227.13,333.01 C228.71,331.68 229.76,332.01 231.54,331.87 C233.32,331.73 235.42,331.30 237.83,332.16 C240.24,333.01 243.07,335.00 246.00,337.00 C248.94,339.00 252.29,341.99 255.44,344.12 C258.58,346.26 261.73,348.07 264.88,349.82 C268.02,351.58 271.79,353.48 274.31,354.67 C276.83,355.86 279.03,356.57 279.97,356.95" stroke="#4fd060" stroke-width="0.9" fill="none" /><text x="238.00" y="319.20" font-size="7.9" text-anchor="middle" textLength="57.00" lengthAdjust="spacingAndGlyphs" fill="#404040" stroke="#404040" stroke-width="0.1">mTORC1 signaling</text><text x="208.60" y="326.50" font-size="6.8" textLength="72.40" lengthAdjust="spacingAndGlyphs" fill="#404040" stroke="#404040" stroke-width="0.04">NES=2.335, <tspan font-style="italic">p</tspan>&lt;0.001, <tspan font-style="italic">q</tspan>=0.010</text><text x="137.20" y="381.80" font-size="8.8" textLength="10.00" lengthAdjust="spacingAndGlyphs" fill="#d8204e" stroke="#d8204e" stroke-width="0.22">N1</text><line x1="152.20" y1="378.90" x2="184.70" y2="378.90" stroke="#111" stroke-width="1.4" /><path d="M149.20,378.90 L153.60,376.40 L153.60,381.40 Z" stroke="none" stroke-width="1" fill="#111" /><path d="M187.70,378.90 L183.30,376.40 L183.30,381.40 Z" stroke="none" stroke-width="1" fill="#111" /><text x="190.60" y="381.80" font-size="8.8" textLength="13.40" lengthAdjust="spacingAndGlyphs" fill="#3a7ac0" stroke="#3a7ac0" stroke-width="0.22">Ctrl</text><text x="215.00" y="381.80" font-size="8.8" textLength="10.00" lengthAdjust="spacingAndGlyphs" fill="#d8204e" stroke="#d8204e" stroke-width="0.22">N1</text><line x1="229.50" y1="378.90" x2="262.00" y2="378.90" stroke="#111" stroke-width="1.4" /><path d="M226.50,378.90 L230.90,376.40 L230.90,381.40 Z" stroke="none" stroke-width="1" fill="#111" /><path d="M265.00,378.90 L260.60,376.40 L260.60,381.40 Z" stroke="none" stroke-width="1" fill="#111" /><text x="268.00" y="381.80" font-size="8.8" textLength="13.40" lengthAdjust="spacingAndGlyphs" fill="#3a7ac0" stroke="#3a7ac0" stroke-width="0.22">Ctrl</text><rect x="307.40" y="269.40" width="5.08" height="5.23" fill="rgb(243,158,161)" /><rect x="312.43" y="269.40" width="5.08" height="5.23" fill="rgb(251,224,225)" /><rect x="317.47" y="269.40" width="5.08" height="5.23" fill="rgb(243,162,164)" /><rect x="322.50" y="269.40" width="5.08" height="5.23" fill="rgb(185,200,245)" /><rect x="327.53" y="269.40" width="5.08" height="5.23" fill="rgb(158,180,242)" /><rect x="332.57" y="269.40" width="5.08" height="5.23" fill="rgb(178,195,244)" /><rect x="307.40" y="274.58" width="5.08" height="5.23" fill="rgb(242,150,153)" /><rect x="312.43" y="274.58" width="5.08" height="5.23" fill="rgb(247,191,193)" /><rect x="317.47" y="274.58" width="5.08" height="5.23" fill="rgb(242,146,149)" /><rect x="322.50" y="274.58" width="5.08" height="5.23" fill="rgb(226,232,251)" /><rect x="327.53" y="274.58" width="5.08" height="5.23" fill="rgb(230,235,251)" /><rect x="332.57" y="274.58" width="5.08" height="5.23" fill="rgb(230,235,251)" /><rect x="307.40" y="279.76" width="5.08" height="5.23" fill="rgb(249,251,254)" /><rect x="312.43" y="279.76" width="5.08" height="5.23" fill="rgb(249,206,207)" /><rect x="317.47" y="279.76" width="5.08" height="5.23" fill="rgb(253,240,240)" /><rect x="322.50" y="279.76" width="5.08" height="5.23" fill="rgb(242,245,253)" /><rect x="327.53" y="279.76" width="5.08" height="5.23" fill="rgb(209,219,248)" /><rect x="332.57" y="279.76" width="5.08" height="5.23" fill="rgb(215,224,249)" /><rect x="307.40" y="284.94" width="5.08" height="5.23" fill="rgb(248,204,205)" /><rect x="312.43" y="284.94" width="5.08" height="5.23" fill="rgb(253,239,239)" /><rect x="317.47" y="284.94" width="5.08" height="5.23" fill="rgb(250,216,217)" /><rect x="322.50" y="284.94" width="5.08" height="5.23" fill="rgb(181,198,245)" /><rect x="327.53" y="284.94" width="5.08" height="5.23" fill="rgb(251,223,223)" /><rect x="332.57" y="284.94" width="5.08" height="5.23" fill="rgb(191,205,246)" /><rect x="307.40" y="290.12" width="5.08" height="5.23" fill="rgb(248,197,198)" /><rect x="312.43" y="290.12" width="5.08" height="5.23" fill="rgb(254,254,254)" /><rect x="317.47" y="290.12" width="5.08" height="5.23" fill="rgb(253,246,246)" /><rect x="322.50" y="290.12" width="5.08" height="5.23" fill="rgb(155,177,241)" /><rect x="327.53" y="290.12" width="5.08" height="5.23" fill="rgb(216,225,249)" /><rect x="332.57" y="290.12" width="5.08" height="5.23" fill="rgb(215,224,249)" /><rect x="307.40" y="295.30" width="5.08" height="5.23" fill="rgb(244,163,166)" /><rect x="312.43" y="295.30" width="5.08" height="5.23" fill="rgb(247,194,195)" /><rect x="317.47" y="295.30" width="5.08" height="5.23" fill="rgb(237,111,115)" /><rect x="322.50" y="295.30" width="5.08" height="5.23" fill="rgb(123,152,237)" /><rect x="327.53" y="295.30" width="5.08" height="5.23" fill="rgb(130,157,238)" /><rect x="332.57" y="295.30" width="5.08" height="5.23" fill="rgb(180,196,245)" /><rect x="307.40" y="300.48" width="5.08" height="5.23" fill="rgb(251,229,230)" /><rect x="312.43" y="300.48" width="5.08" height="5.23" fill="rgb(246,187,189)" /><rect x="317.47" y="300.48" width="5.08" height="5.23" fill="rgb(244,164,166)" /><rect x="322.50" y="300.48" width="5.08" height="5.23" fill="rgb(183,199,245)" /><rect x="327.53" y="300.48" width="5.08" height="5.23" fill="rgb(201,213,247)" /><rect x="332.57" y="300.48" width="5.08" height="5.23" fill="rgb(187,202,245)" /><rect x="307.40" y="305.66" width="5.08" height="5.23" fill="rgb(254,246,247)" /><rect x="312.43" y="305.66" width="5.08" height="5.23" fill="rgb(180,196,245)" /><rect x="317.47" y="305.66" width="5.08" height="5.23" fill="rgb(245,247,253)" /><rect x="322.50" y="305.66" width="5.08" height="5.23" fill="rgb(213,222,249)" /><rect x="327.53" y="305.66" width="5.08" height="5.23" fill="rgb(151,174,241)" /><rect x="332.57" y="305.66" width="5.08" height="5.23" fill="rgb(192,206,246)" /><rect x="307.40" y="310.84" width="5.08" height="5.23" fill="rgb(249,210,211)" /><rect x="312.43" y="310.84" width="5.08" height="5.23" fill="rgb(245,173,175)" /><rect x="317.47" y="310.84" width="5.08" height="5.23" fill="rgb(247,248,253)" /><rect x="322.50" y="310.84" width="5.08" height="5.23" fill="rgb(186,201,245)" /><rect x="327.53" y="310.84" width="5.08" height="5.23" fill="rgb(215,223,249)" /><rect x="332.57" y="310.84" width="5.08" height="5.23" fill="rgb(226,232,251)" /><rect x="307.40" y="316.02" width="5.08" height="5.23" fill="rgb(254,250,250)" /><rect x="312.43" y="316.02" width="5.08" height="5.23" fill="rgb(241,142,145)" /><rect x="317.47" y="316.02" width="5.08" height="5.23" fill="rgb(252,231,232)" /><rect x="322.50" y="316.02" width="5.08" height="5.23" fill="rgb(234,239,252)" /><rect x="327.53" y="316.02" width="5.08" height="5.23" fill="rgb(186,201,245)" /><rect x="332.57" y="316.02" width="5.08" height="5.23" fill="rgb(209,219,248)" /><rect x="307.40" y="321.20" width="5.08" height="5.23" fill="rgb(240,131,134)" /><rect x="312.43" y="321.20" width="5.08" height="5.23" fill="rgb(244,163,165)" /><rect x="317.47" y="321.20" width="5.08" height="5.23" fill="rgb(246,182,184)" /><rect x="322.50" y="321.20" width="5.08" height="5.23" fill="rgb(138,164,239)" /><rect x="327.53" y="321.20" width="5.08" height="5.23" fill="rgb(151,174,241)" /><rect x="332.57" y="321.20" width="5.08" height="5.23" fill="rgb(122,151,237)" /><rect x="307.40" y="326.38" width="5.08" height="5.23" fill="rgb(240,136,139)" /><rect x="312.43" y="326.38" width="5.08" height="5.23" fill="rgb(254,254,254)" /><rect x="317.47" y="326.38" width="5.08" height="5.23" fill="rgb(220,227,250)" /><rect x="322.50" y="326.38" width="5.08" height="5.23" fill="rgb(254,254,254)" /><rect x="327.53" y="326.38" width="5.08" height="5.23" fill="rgb(241,244,253)" /><rect x="332.57" y="326.38" width="5.08" height="5.23" fill="rgb(179,196,244)" /><rect x="307.40" y="331.56" width="5.08" height="5.23" fill="rgb(246,182,184)" /><rect x="312.43" y="331.56" width="5.08" height="5.23" fill="rgb(252,237,238)" /><rect x="317.47" y="331.56" width="5.08" height="5.23" fill="rgb(251,229,230)" /><rect x="322.50" y="331.56" width="5.08" height="5.23" fill="rgb(218,226,250)" /><rect x="327.53" y="331.56" width="5.08" height="5.23" fill="rgb(214,223,249)" /><rect x="332.57" y="331.56" width="5.08" height="5.23" fill="rgb(181,198,245)" /><rect x="307.40" y="336.74" width="5.08" height="5.23" fill="rgb(242,153,156)" /><rect x="312.43" y="336.74" width="5.08" height="5.23" fill="rgb(246,183,185)" /><rect x="317.47" y="336.74" width="5.08" height="5.23" fill="rgb(248,203,204)" /><rect x="322.50" y="336.74" width="5.08" height="5.23" fill="rgb(152,174,241)" /><rect x="327.53" y="336.74" width="5.08" height="5.23" fill="rgb(201,213,247)" /><rect x="332.57" y="336.74" width="5.08" height="5.23" fill="rgb(184,200,245)" /><rect x="307.40" y="341.92" width="5.08" height="5.23" fill="rgb(248,203,204)" /><rect x="312.43" y="341.92" width="5.08" height="5.23" fill="rgb(245,174,176)" /><rect x="317.47" y="341.92" width="5.08" height="5.23" fill="rgb(250,220,220)" /><rect x="322.50" y="341.92" width="5.08" height="5.23" fill="rgb(199,212,247)" /><rect x="327.53" y="341.92" width="5.08" height="5.23" fill="rgb(219,227,250)" /><rect x="332.57" y="341.92" width="5.08" height="5.23" fill="rgb(203,214,248)" /><rect x="307.40" y="347.10" width="5.08" height="5.23" fill="rgb(241,140,143)" /><rect x="312.43" y="347.10" width="5.08" height="5.23" fill="rgb(234,239,252)" /><rect x="317.47" y="347.10" width="5.08" height="5.23" fill="rgb(250,219,220)" /><rect x="322.50" y="347.10" width="5.08" height="5.23" fill="rgb(160,181,242)" /><rect x="327.53" y="347.10" width="5.08" height="5.23" fill="rgb(203,214,248)" /><rect x="332.57" y="347.10" width="5.08" height="5.23" fill="rgb(249,208,210)" /><rect x="307.40" y="352.28" width="5.08" height="5.23" fill="rgb(251,252,254)" /><rect x="312.43" y="352.28" width="5.08" height="5.23" fill="rgb(250,213,214)" /><rect x="317.47" y="352.28" width="5.08" height="5.23" fill="rgb(246,181,183)" /><rect x="322.50" y="352.28" width="5.08" height="5.23" fill="rgb(196,209,247)" /><rect x="327.53" y="352.28" width="5.08" height="5.23" fill="rgb(30,80,225)" /><rect x="332.57" y="352.28" width="5.08" height="5.23" fill="rgb(133,160,238)" /><rect x="307.40" y="357.46" width="5.08" height="5.23" fill="rgb(244,166,168)" /><rect x="312.43" y="357.46" width="5.08" height="5.23" fill="rgb(252,231,231)" /><rect x="317.47" y="357.46" width="5.08" height="5.23" fill="rgb(253,240,240)" /><rect x="322.50" y="357.46" width="5.08" height="5.23" fill="rgb(209,219,248)" /><rect x="327.53" y="357.46" width="5.08" height="5.23" fill="rgb(205,216,248)" /><rect x="332.57" y="357.46" width="5.08" height="5.23" fill="rgb(160,181,242)" /><rect x="307.40" y="362.64" width="5.08" height="5.23" fill="rgb(248,202,203)" /><rect x="312.43" y="362.64" width="5.08" height="5.23" fill="rgb(246,181,183)" /><rect x="317.47" y="362.64" width="5.08" height="5.23" fill="rgb(245,175,177)" /><rect x="322.50" y="362.64" width="5.08" height="5.23" fill="rgb(157,178,241)" /><rect x="327.53" y="362.64" width="5.08" height="5.23" fill="rgb(124,153,237)" /><rect x="332.57" y="362.64" width="5.08" height="5.23" fill="rgb(75,115,231)" /><rect x="307.40" y="367.82" width="5.08" height="5.23" fill="rgb(243,161,163)" /><rect x="312.43" y="367.82" width="5.08" height="5.23" fill="rgb(248,199,200)" /><rect x="317.47" y="367.82" width="5.08" height="5.23" fill="rgb(254,246,246)" /><rect x="322.50" y="367.82" width="5.08" height="5.23" fill="rgb(133,160,238)" /><rect x="327.53" y="367.82" width="5.08" height="5.23" fill="rgb(167,186,243)" /><rect x="332.57" y="367.82" width="5.08" height="5.23" fill="rgb(120,150,237)" /><rect x="307.40" y="269.40" width="30.20" height="103.60" fill="none" stroke="#1a1a2a" stroke-width="1.1"/><text x="306.00" y="273.59" font-size="4.4" text-anchor="end" fill="#333">HSPD1</text><text x="306.00" y="278.77" font-size="4.4" text-anchor="end" fill="#333">CDC45</text><text x="306.00" y="283.95" font-size="4.4" text-anchor="end" fill="#333">HSPE1</text><text x="306.00" y="289.13" font-size="4.4" text-anchor="end" fill="#333">MCM4</text><text x="306.00" y="294.31" font-size="4.4" text-anchor="end" fill="#333">EIF3B</text><text x="306.00" y="299.49" font-size="4.4" text-anchor="end" fill="#333">MCM5</text><text x="306.00" y="304.67" font-size="4.4" text-anchor="end" fill="#333">HSP90AB1</text><text x="306.00" y="309.85" font-size="4.4" text-anchor="end" fill="#333">TUFM</text><text x="306.00" y="315.03" font-size="4.4" text-anchor="end" fill="#333">MCM2</text><text x="306.00" y="320.21" font-size="4.4" text-anchor="end" fill="#333">CANX</text><text x="306.00" y="325.39" font-size="4.4" text-anchor="end" fill="#333">RFC4</text><text x="306.00" y="330.57" font-size="4.4" text-anchor="end" fill="#333">MCM7</text><text x="306.00" y="335.75" font-size="4.4" text-anchor="end" fill="#333">POLD2</text><text x="306.00" y="340.93" font-size="4.4" text-anchor="end" fill="#333">TCP1</text><text x="306.00" y="346.11" font-size="4.4" text-anchor="end" fill="#333">IMPDH2</text><text x="306.00" y="351.29" font-size="4.4" text-anchor="end" fill="#333">DUT</text><text x="306.00" y="356.47" font-size="4.4" text-anchor="end" fill="#333">CCNA2</text><text x="306.00" y="361.65" font-size="4.4" text-anchor="end" fill="#333">RRM1</text><text x="306.00" y="366.83" font-size="4.4" text-anchor="end" fill="#333">CCT4</text><text x="306.00" y="372.01" font-size="4.4" text-anchor="end" fill="#333">DDX21</text><text x="322.60" y="254.70" font-size="7.0" text-anchor="middle" textLength="19.20" lengthAdjust="spacingAndGlyphs" stroke="#3b3b3b" stroke-width="0.22">c-Myc</text><text x="309.10" y="265.80" font-size="7.4" textLength="8.60" lengthAdjust="spacingAndGlyphs" fill="#d8204e" stroke="#d8204e" stroke-width="0.22">N1</text><text x="324.20" y="265.80" font-size="7.4" textLength="11.30" lengthAdjust="spacingAndGlyphs" fill="#3a7ac0" stroke="#3a7ac0" stroke-width="0.22">Ctrl</text><rect x="359.20" y="269.40" width="5.32" height="5.23" fill="rgb(246,186,187)" /><rect x="364.47" y="269.40" width="5.32" height="5.23" fill="rgb(243,157,160)" /><rect x="369.73" y="269.40" width="5.32" height="5.23" fill="rgb(242,151,154)" /><rect x="375.00" y="269.40" width="5.32" height="5.23" fill="rgb(125,154,237)" /><rect x="380.27" y="269.40" width="5.32" height="5.23" fill="rgb(227,233,251)" /><rect x="385.53" y="269.40" width="5.32" height="5.23" fill="rgb(75,115,231)" /><rect x="359.20" y="274.58" width="5.32" height="5.23" fill="rgb(242,147,150)" /><rect x="364.47" y="274.58" width="5.32" height="5.23" fill="rgb(248,200,202)" /><rect x="369.73" y="274.58" width="5.32" height="5.23" fill="rgb(248,204,206)" /><rect x="375.00" y="274.58" width="5.32" height="5.23" fill="rgb(128,156,238)" /><rect x="380.27" y="274.58" width="5.32" height="5.23" fill="rgb(173,191,244)" /><rect x="385.53" y="274.58" width="5.32" height="5.23" fill="rgb(252,235,235)" /><rect x="359.20" y="279.76" width="5.32" height="5.23" fill="rgb(241,145,148)" /><rect x="364.47" y="279.76" width="5.32" height="5.23" fill="rgb(232,68,73)" /><rect x="369.73" y="279.76" width="5.32" height="5.23" fill="rgb(233,75,80)" /><rect x="375.00" y="279.76" width="5.32" height="5.23" fill="rgb(95,131,233)" /><rect x="380.27" y="279.76" width="5.32" height="5.23" fill="rgb(75,115,231)" /><rect x="385.53" y="279.76" width="5.32" height="5.23" fill="rgb(167,186,243)" /><rect x="359.20" y="284.94" width="5.32" height="5.23" fill="rgb(247,188,190)" /><rect x="364.47" y="284.94" width="5.32" height="5.23" fill="rgb(247,196,198)" /><rect x="369.73" y="284.94" width="5.32" height="5.23" fill="rgb(240,138,141)" /><rect x="375.00" y="284.94" width="5.32" height="5.23" fill="rgb(180,197,245)" /><rect x="380.27" y="284.94" width="5.32" height="5.23" fill="rgb(251,252,254)" /><rect x="385.53" y="284.94" width="5.32" height="5.23" fill="rgb(184,199,245)" /><rect x="359.20" y="290.12" width="5.32" height="5.23" fill="rgb(251,224,225)" /><rect x="364.47" y="290.12" width="5.32" height="5.23" fill="rgb(246,185,187)" /><rect x="369.73" y="290.12" width="5.32" height="5.23" fill="rgb(251,225,226)" /><rect x="375.00" y="290.12" width="5.32" height="5.23" fill="rgb(202,214,248)" /><rect x="380.27" y="290.12" width="5.32" height="5.23" fill="rgb(200,212,247)" /><rect x="385.53" y="290.12" width="5.32" height="5.23" fill="rgb(156,178,241)" /><rect x="359.20" y="295.30" width="5.32" height="5.23" fill="rgb(249,210,211)" /><rect x="364.47" y="295.30" width="5.32" height="5.23" fill="rgb(242,147,150)" /><rect x="369.73" y="295.30" width="5.32" height="5.23" fill="rgb(247,192,194)" /><rect x="375.00" y="295.30" width="5.32" height="5.23" fill="rgb(217,225,249)" /><rect x="380.27" y="295.30" width="5.32" height="5.23" fill="rgb(128,156,238)" /><rect x="385.53" y="295.30" width="5.32" height="5.23" fill="rgb(156,178,241)" /><rect x="359.20" y="300.48" width="5.32" height="5.23" fill="rgb(250,216,217)" /><rect x="364.47" y="300.48" width="5.32" height="5.23" fill="rgb(252,233,234)" /><rect x="369.73" y="300.48" width="5.32" height="5.23" fill="rgb(236,100,104)" /><rect x="375.00" y="300.48" width="5.32" height="5.23" fill="rgb(253,253,254)" /><rect x="380.27" y="300.48" width="5.32" height="5.23" fill="rgb(160,181,242)" /><rect x="385.53" y="300.48" width="5.32" height="5.23" fill="rgb(217,226,250)" /><rect x="359.20" y="305.66" width="5.32" height="5.23" fill="rgb(245,247,253)" /><rect x="364.47" y="305.66" width="5.32" height="5.23" fill="rgb(243,156,159)" /><rect x="369.73" y="305.66" width="5.32" height="5.23" fill="rgb(243,162,164)" /><rect x="375.00" y="305.66" width="5.32" height="5.23" fill="rgb(176,193,244)" /><rect x="380.27" y="305.66" width="5.32" height="5.23" fill="rgb(175,193,244)" /><rect x="385.53" y="305.66" width="5.32" height="5.23" fill="rgb(199,212,247)" /><rect x="359.20" y="310.84" width="5.32" height="5.23" fill="rgb(243,161,163)" /><rect x="364.47" y="310.84" width="5.32" height="5.23" fill="rgb(247,190,191)" /><rect x="369.73" y="310.84" width="5.32" height="5.23" fill="rgb(249,207,208)" /><rect x="375.00" y="310.84" width="5.32" height="5.23" fill="rgb(155,177,241)" /><rect x="380.27" y="310.84" width="5.32" height="5.23" fill="rgb(149,172,240)" /><rect x="385.53" y="310.84" width="5.32" height="5.23" fill="rgb(197,210,247)" /><rect x="359.20" y="316.02" width="5.32" height="5.23" fill="rgb(247,192,194)" /><rect x="364.47" y="316.02" width="5.32" height="5.23" fill="rgb(246,187,189)" /><rect x="369.73" y="316.02" width="5.32" height="5.23" fill="rgb(254,254,254)" /><rect x="375.00" y="316.02" width="5.32" height="5.23" fill="rgb(169,188,243)" /><rect x="380.27" y="316.02" width="5.32" height="5.23" fill="rgb(169,188,243)" /><rect x="385.53" y="316.02" width="5.32" height="5.23" fill="rgb(164,184,242)" /><rect x="359.20" y="321.20" width="5.32" height="5.23" fill="rgb(245,176,178)" /><rect x="364.47" y="321.20" width="5.32" height="5.23" fill="rgb(246,182,184)" /><rect x="369.73" y="321.20" width="5.32" height="5.23" fill="rgb(251,225,226)" /><rect x="375.00" y="321.20" width="5.32" height="5.23" fill="rgb(199,211,247)" /><rect x="380.27" y="321.20" width="5.32" height="5.23" fill="rgb(198,210,247)" /><rect x="385.53" y="321.20" width="5.32" height="5.23" fill="rgb(140,166,239)" /><rect x="359.20" y="326.38" width="5.32" height="5.23" fill="rgb(244,168,171)" /><rect x="364.47" y="326.38" width="5.32" height="5.23" fill="rgb(251,224,224)" /><rect x="369.73" y="326.38" width="5.32" height="5.23" fill="rgb(252,235,236)" /><rect x="375.00" y="326.38" width="5.32" height="5.23" fill="rgb(172,190,244)" /><rect x="380.27" y="326.38" width="5.32" height="5.23" fill="rgb(243,245,253)" /><rect x="385.53" y="326.38" width="5.32" height="5.23" fill="rgb(176,194,244)" /><rect x="359.20" y="331.56" width="5.32" height="5.23" fill="rgb(235,239,252)" /><rect x="364.47" y="331.56" width="5.32" height="5.23" fill="rgb(249,211,213)" /><rect x="369.73" y="331.56" width="5.32" height="5.23" fill="rgb(253,240,241)" /><rect x="375.00" y="331.56" width="5.32" height="5.23" fill="rgb(181,198,245)" /><rect x="380.27" y="331.56" width="5.32" height="5.23" fill="rgb(63,106,229)" /><rect x="385.53" y="331.56" width="5.32" height="5.23" fill="rgb(140,166,239)" /><rect x="359.20" y="336.74" width="5.32" height="5.23" fill="rgb(235,239,252)" /><rect x="364.47" y="336.74" width="5.32" height="5.23" fill="rgb(246,248,253)" /><rect x="369.73" y="336.74" width="5.32" height="5.23" fill="rgb(245,172,174)" /><rect x="375.00" y="336.74" width="5.32" height="5.23" fill="rgb(206,217,248)" /><rect x="380.27" y="336.74" width="5.32" height="5.23" fill="rgb(177,195,244)" /><rect x="385.53" y="336.74" width="5.32" height="5.23" fill="rgb(174,192,244)" /><rect x="359.20" y="341.92" width="5.32" height="5.23" fill="rgb(245,179,181)" /><rect x="364.47" y="341.92" width="5.32" height="5.23" fill="rgb(243,158,160)" /><rect x="369.73" y="341.92" width="5.32" height="5.23" fill="rgb(251,228,228)" /><rect x="375.00" y="341.92" width="5.32" height="5.23" fill="rgb(204,215,248)" /><rect x="380.27" y="341.92" width="5.32" height="5.23" fill="rgb(250,221,221)" /><rect x="385.53" y="341.92" width="5.32" height="5.23" fill="rgb(218,226,250)" /><rect x="359.20" y="347.10" width="5.32" height="5.23" fill="rgb(252,235,235)" /><rect x="364.47" y="347.10" width="5.32" height="5.23" fill="rgb(249,211,212)" /><rect x="369.73" y="347.10" width="5.32" height="5.23" fill="rgb(250,219,220)" /><rect x="375.00" y="347.10" width="5.32" height="5.23" fill="rgb(242,245,253)" /><rect x="380.27" y="347.10" width="5.32" height="5.23" fill="rgb(229,235,251)" /><rect x="385.53" y="347.10" width="5.32" height="5.23" fill="rgb(195,208,247)" /><rect x="359.20" y="352.28" width="5.32" height="5.23" fill="rgb(247,191,193)" /><rect x="364.47" y="352.28" width="5.32" height="5.23" fill="rgb(245,173,176)" /><rect x="369.73" y="352.28" width="5.32" height="5.23" fill="rgb(249,211,212)" /><rect x="375.00" y="352.28" width="5.32" height="5.23" fill="rgb(182,198,245)" /><rect x="380.27" y="352.28" width="5.32" height="5.23" fill="rgb(142,167,240)" /><rect x="385.53" y="352.28" width="5.32" height="5.23" fill="rgb(229,235,251)" /><rect x="359.20" y="357.46" width="5.32" height="5.23" fill="rgb(240,135,139)" /><rect x="364.47" y="357.46" width="5.32" height="5.23" fill="rgb(251,222,222)" /><rect x="369.73" y="357.46" width="5.32" height="5.23" fill="rgb(243,161,163)" /><rect x="375.00" y="357.46" width="5.32" height="5.23" fill="rgb(190,204,246)" /><rect x="380.27" y="357.46" width="5.32" height="5.23" fill="rgb(187,202,245)" /><rect x="385.53" y="357.46" width="5.32" height="5.23" fill="rgb(173,191,244)" /><rect x="359.20" y="362.64" width="5.32" height="5.23" fill="rgb(243,158,161)" /><rect x="364.47" y="362.64" width="5.32" height="5.23" fill="rgb(240,132,135)" /><rect x="369.73" y="362.64" width="5.32" height="5.23" fill="rgb(249,211,212)" /><rect x="375.00" y="362.64" width="5.32" height="5.23" fill="rgb(201,213,247)" /><rect x="380.27" y="362.64" width="5.32" height="5.23" fill="rgb(150,173,241)" /><rect x="385.53" y="362.64" width="5.32" height="5.23" fill="rgb(116,147,236)" /><rect x="359.20" y="367.82" width="5.32" height="5.23" fill="rgb(248,203,205)" /><rect x="364.47" y="367.82" width="5.32" height="5.23" fill="rgb(245,179,181)" /><rect x="369.73" y="367.82" width="5.32" height="5.23" fill="rgb(249,205,206)" /><rect x="375.00" y="367.82" width="5.32" height="5.23" fill="rgb(206,217,248)" /><rect x="380.27" y="367.82" width="5.32" height="5.23" fill="rgb(181,197,245)" /><rect x="385.53" y="367.82" width="5.32" height="5.23" fill="rgb(173,191,244)" /><rect x="359.20" y="269.40" width="31.60" height="103.60" fill="none" stroke="#1a1a2a" stroke-width="1.1"/><text x="357.80" y="273.59" font-size="4.4" text-anchor="end" fill="#333">RRM2</text><text x="357.80" y="278.77" font-size="4.4" text-anchor="end" fill="#333">DCLRE1B</text><text x="357.80" y="283.95" font-size="4.4" text-anchor="end" fill="#333">POLD1</text><text x="357.80" y="289.13" font-size="4.4" text-anchor="end" fill="#333">TK1</text><text x="357.80" y="294.31" font-size="4.4" text-anchor="end" fill="#333">CDKN2A</text><text x="357.80" y="299.49" font-size="4.4" text-anchor="end" fill="#333">CDKN1A</text><text x="357.80" y="304.67" font-size="4.4" text-anchor="end" fill="#333">PAICS</text><text x="357.80" y="309.85" font-size="4.4" text-anchor="end" fill="#333">MCM4</text><text x="357.80" y="315.03" font-size="4.4" text-anchor="end" fill="#333">ASF1B</text><text x="357.80" y="320.21" font-size="4.4" text-anchor="end" fill="#333">ESPL1</text><text x="357.80" y="325.39" font-size="4.4" text-anchor="end" fill="#333">MYBL2</text><text x="357.80" y="330.57" font-size="4.4" text-anchor="end" fill="#333">DCTPP1</text><text x="357.80" y="335.75" font-size="4.4" text-anchor="end" fill="#333">MXD3</text><text x="357.80" y="340.93" font-size="4.4" text-anchor="end" fill="#333">SSRP1</text><text x="357.80" y="346.11" font-size="4.4" text-anchor="end" fill="#333">RFC3</text><text x="357.80" y="351.29" font-size="4.4" text-anchor="end" fill="#333">TUBB</text><text x="357.80" y="356.47" font-size="4.4" text-anchor="end" fill="#333">MCM5</text><text x="357.80" y="361.65" font-size="4.4" text-anchor="end" fill="#333">HMGA1</text><text x="357.80" y="366.83" font-size="4.4" text-anchor="end" fill="#333">BRCA1</text><text x="357.80" y="372.01" font-size="4.4" text-anchor="end" fill="#333">TUBG1</text><text x="375.00" y="254.70" font-size="7.0" text-anchor="middle" textLength="14.50" lengthAdjust="spacingAndGlyphs" stroke="#3b3b3b" stroke-width="0.22">E2F</text><text x="360.90" y="265.80" font-size="7.4" textLength="8.60" lengthAdjust="spacingAndGlyphs" fill="#d8204e" stroke="#d8204e" stroke-width="0.22">N1</text><text x="376.00" y="265.80" font-size="7.4" textLength="11.30" lengthAdjust="spacingAndGlyphs" fill="#3a7ac0" stroke="#3a7ac0" stroke-width="0.22">Ctrl</text><rect x="411.00" y="269.40" width="5.08" height="5.23" fill="rgb(242,152,155)" /><rect x="416.03" y="269.40" width="5.08" height="5.23" fill="rgb(249,205,207)" /><rect x="421.07" y="269.40" width="5.08" height="5.23" fill="rgb(246,187,189)" /><rect x="426.10" y="269.40" width="5.08" height="5.23" fill="rgb(103,137,234)" /><rect x="431.13" y="269.40" width="5.08" height="5.23" fill="rgb(184,199,245)" /><rect x="436.17" y="269.40" width="5.08" height="5.23" fill="rgb(141,166,239)" /><rect x="411.00" y="274.58" width="5.08" height="5.23" fill="rgb(250,218,219)" /><rect x="416.03" y="274.58" width="5.08" height="5.23" fill="rgb(254,253,253)" /><rect x="421.07" y="274.58" width="5.08" height="5.23" fill="rgb(244,246,253)" /><rect x="426.10" y="274.58" width="5.08" height="5.23" fill="rgb(182,198,245)" /><rect x="431.13" y="274.58" width="5.08" height="5.23" fill="rgb(201,213,247)" /><rect x="436.17" y="274.58" width="5.08" height="5.23" fill="rgb(222,229,250)" /><rect x="411.00" y="279.76" width="5.08" height="5.23" fill="rgb(254,248,248)" /><rect x="416.03" y="279.76" width="5.08" height="5.23" fill="rgb(246,186,188)" /><rect x="421.07" y="279.76" width="5.08" height="5.23" fill="rgb(251,226,226)" /><rect x="426.10" y="279.76" width="5.08" height="5.23" fill="rgb(159,180,242)" /><rect x="431.13" y="279.76" width="5.08" height="5.23" fill="rgb(166,186,243)" /><rect x="436.17" y="279.76" width="5.08" height="5.23" fill="rgb(162,183,242)" /><rect x="411.00" y="284.94" width="5.08" height="5.23" fill="rgb(247,192,194)" /><rect x="416.03" y="284.94" width="5.08" height="5.23" fill="rgb(245,178,180)" /><rect x="421.07" y="284.94" width="5.08" height="5.23" fill="rgb(229,41,46)" /><rect x="426.10" y="284.94" width="5.08" height="5.23" fill="rgb(169,188,243)" /><rect x="431.13" y="284.94" width="5.08" height="5.23" fill="rgb(52,97,228)" /><rect x="436.17" y="284.94" width="5.08" height="5.23" fill="rgb(52,97,228)" /><rect x="411.00" y="290.12" width="5.08" height="5.23" fill="rgb(247,190,192)" /><rect x="416.03" y="290.12" width="5.08" height="5.23" fill="rgb(249,210,211)" /><rect x="421.07" y="290.12" width="5.08" height="5.23" fill="rgb(237,241,252)" /><rect x="426.10" y="290.12" width="5.08" height="5.23" fill="rgb(172,190,243)" /><rect x="431.13" y="290.12" width="5.08" height="5.23" fill="rgb(185,200,245)" /><rect x="436.17" y="290.12" width="5.08" height="5.23" fill="rgb(235,239,252)" /><rect x="411.00" y="295.30" width="5.08" height="5.23" fill="rgb(250,218,219)" /><rect x="416.03" y="295.30" width="5.08" height="5.23" fill="rgb(246,183,185)" /><rect x="421.07" y="295.30" width="5.08" height="5.23" fill="rgb(248,203,205)" /><rect x="426.10" y="295.30" width="5.08" height="5.23" fill="rgb(150,173,241)" /><rect x="431.13" y="295.30" width="5.08" height="5.23" fill="rgb(75,115,231)" /><rect x="436.17" y="295.30" width="5.08" height="5.23" fill="rgb(216,224,249)" /><rect x="411.00" y="300.48" width="5.08" height="5.23" fill="rgb(248,199,200)" /><rect x="416.03" y="300.48" width="5.08" height="5.23" fill="rgb(247,249,254)" /><rect x="421.07" y="300.48" width="5.08" height="5.23" fill="rgb(248,198,200)" /><rect x="426.10" y="300.48" width="5.08" height="5.23" fill="rgb(172,190,243)" /><rect x="431.13" y="300.48" width="5.08" height="5.23" fill="rgb(114,145,236)" /><rect x="436.17" y="300.48" width="5.08" height="5.23" fill="rgb(172,190,244)" /><rect x="411.00" y="305.66" width="5.08" height="5.23" fill="rgb(239,242,252)" /><rect x="416.03" y="305.66" width="5.08" height="5.23" fill="rgb(254,247,247)" /><rect x="421.07" y="305.66" width="5.08" height="5.23" fill="rgb(243,157,159)" /><rect x="426.10" y="305.66" width="5.08" height="5.23" fill="rgb(252,230,231)" /><rect x="431.13" y="305.66" width="5.08" height="5.23" fill="rgb(226,232,251)" /><rect x="436.17" y="305.66" width="5.08" height="5.23" fill="rgb(202,214,248)" /><rect x="411.00" y="310.84" width="5.08" height="5.23" fill="rgb(240,133,136)" /><rect x="416.03" y="310.84" width="5.08" height="5.23" fill="rgb(246,185,186)" /><rect x="421.07" y="310.84" width="5.08" height="5.23" fill="rgb(251,229,229)" /><rect x="426.10" y="310.84" width="5.08" height="5.23" fill="rgb(85,122,232)" /><rect x="431.13" y="310.84" width="5.08" height="5.23" fill="rgb(212,221,249)" /><rect x="436.17" y="310.84" width="5.08" height="5.23" fill="rgb(92,128,233)" /><rect x="411.00" y="316.02" width="5.08" height="5.23" fill="rgb(229,235,251)" /><rect x="416.03" y="316.02" width="5.08" height="5.23" fill="rgb(249,206,208)" /><rect x="421.07" y="316.02" width="5.08" height="5.23" fill="rgb(246,182,184)" /><rect x="426.10" y="316.02" width="5.08" height="5.23" fill="rgb(134,160,238)" /><rect x="431.13" y="316.02" width="5.08" height="5.23" fill="rgb(205,216,248)" /><rect x="436.17" y="316.02" width="5.08" height="5.23" fill="rgb(163,183,242)" /><rect x="411.00" y="321.20" width="5.08" height="5.23" fill="rgb(247,192,194)" /><rect x="416.03" y="321.20" width="5.08" height="5.23" fill="rgb(246,184,186)" /><rect x="421.07" y="321.20" width="5.08" height="5.23" fill="rgb(250,219,220)" /><rect x="426.10" y="321.20" width="5.08" height="5.23" fill="rgb(189,203,246)" /><rect x="431.13" y="321.20" width="5.08" height="5.23" fill="rgb(253,240,240)" /><rect x="436.17" y="321.20" width="5.08" height="5.23" fill="rgb(145,170,240)" /><rect x="411.00" y="326.38" width="5.08" height="5.23" fill="rgb(245,178,180)" /><rect x="416.03" y="326.38" width="5.08" height="5.23" fill="rgb(244,166,168)" /><rect x="421.07" y="326.38" width="5.08" height="5.23" fill="rgb(248,201,203)" /><rect x="426.10" y="326.38" width="5.08" height="5.23" fill="rgb(163,184,242)" /><rect x="431.13" y="326.38" width="5.08" height="5.23" fill="rgb(100,134,234)" /><rect x="436.17" y="326.38" width="5.08" height="5.23" fill="rgb(149,172,240)" /><rect x="411.00" y="331.56" width="5.08" height="5.23" fill="rgb(247,194,195)" /><rect x="416.03" y="331.56" width="5.08" height="5.23" fill="rgb(243,158,160)" /><rect x="421.07" y="331.56" width="5.08" height="5.23" fill="rgb(244,163,166)" /><rect x="426.10" y="331.56" width="5.08" height="5.23" fill="rgb(155,177,241)" /><rect x="431.13" y="331.56" width="5.08" height="5.23" fill="rgb(135,162,239)" /><rect x="436.17" y="331.56" width="5.08" height="5.23" fill="rgb(247,249,253)" /><rect x="411.00" y="336.74" width="5.08" height="5.23" fill="rgb(245,171,174)" /><rect x="416.03" y="336.74" width="5.08" height="5.23" fill="rgb(244,246,253)" /><rect x="421.07" y="336.74" width="5.08" height="5.23" fill="rgb(249,213,214)" /><rect x="426.10" y="336.74" width="5.08" height="5.23" fill="rgb(149,173,240)" /><rect x="431.13" y="336.74" width="5.08" height="5.23" fill="rgb(161,181,242)" /><rect x="436.17" y="336.74" width="5.08" height="5.23" fill="rgb(118,149,236)" /><rect x="411.00" y="341.92" width="5.08" height="5.23" fill="rgb(250,221,222)" /><rect x="416.03" y="341.92" width="5.08" height="5.23" fill="rgb(251,224,225)" /><rect x="421.07" y="341.92" width="5.08" height="5.23" fill="rgb(250,215,216)" /><rect x="426.10" y="341.92" width="5.08" height="5.23" fill="rgb(229,235,251)" /><rect x="431.13" y="341.92" width="5.08" height="5.23" fill="rgb(198,211,247)" /><rect x="436.17" y="341.92" width="5.08" height="5.23" fill="rgb(143,168,240)" /><rect x="411.00" y="347.10" width="5.08" height="5.23" fill="rgb(230,236,251)" /><rect x="416.03" y="347.10" width="5.08" height="5.23" fill="rgb(253,238,239)" /><rect x="421.07" y="347.10" width="5.08" height="5.23" fill="rgb(246,182,184)" /><rect x="426.10" y="347.10" width="5.08" height="5.23" fill="rgb(239,243,252)" /><rect x="431.13" y="347.10" width="5.08" height="5.23" fill="rgb(181,197,245)" /><rect x="436.17" y="347.10" width="5.08" height="5.23" fill="rgb(248,249,254)" /><rect x="411.00" y="352.28" width="5.08" height="5.23" fill="rgb(250,217,218)" /><rect x="416.03" y="352.28" width="5.08" height="5.23" fill="rgb(254,252,252)" /><rect x="421.07" y="352.28" width="5.08" height="5.23" fill="rgb(250,217,218)" /><rect x="426.10" y="352.28" width="5.08" height="5.23" fill="rgb(212,221,249)" /><rect x="431.13" y="352.28" width="5.08" height="5.23" fill="rgb(172,190,244)" /><rect x="436.17" y="352.28" width="5.08" height="5.23" fill="rgb(198,211,247)" /><rect x="411.00" y="357.46" width="5.08" height="5.23" fill="rgb(248,199,200)" /><rect x="416.03" y="357.46" width="5.08" height="5.23" fill="rgb(243,160,162)" /><rect x="421.07" y="357.46" width="5.08" height="5.23" fill="rgb(253,239,239)" /><rect x="426.10" y="357.46" width="5.08" height="5.23" fill="rgb(197,210,247)" /><rect x="431.13" y="357.46" width="5.08" height="5.23" fill="rgb(189,203,246)" /><rect x="436.17" y="357.46" width="5.08" height="5.23" fill="rgb(186,201,245)" /><rect x="411.00" y="362.64" width="5.08" height="5.23" fill="rgb(254,247,247)" /><rect x="416.03" y="362.64" width="5.08" height="5.23" fill="rgb(244,163,166)" /><rect x="421.07" y="362.64" width="5.08" height="5.23" fill="rgb(243,162,164)" /><rect x="426.10" y="362.64" width="5.08" height="5.23" fill="rgb(251,252,254)" /><rect x="431.13" y="362.64" width="5.08" height="5.23" fill="rgb(208,218,248)" /><rect x="436.17" y="362.64" width="5.08" height="5.23" fill="rgb(246,248,253)" /><rect x="411.00" y="367.82" width="5.08" height="5.23" fill="rgb(245,179,181)" /><rect x="416.03" y="367.82" width="5.08" height="5.23" fill="rgb(244,163,165)" /><rect x="421.07" y="367.82" width="5.08" height="5.23" fill="rgb(249,208,209)" /><rect x="426.10" y="367.82" width="5.08" height="5.23" fill="rgb(190,204,246)" /><rect x="431.13" y="367.82" width="5.08" height="5.23" fill="rgb(169,188,243)" /><rect x="436.17" y="367.82" width="5.08" height="5.23" fill="rgb(141,166,239)" /><rect x="411.00" y="269.40" width="30.20" height="103.60" fill="none" stroke="#1a1a2a" stroke-width="1.1"/><text x="409.60" y="273.59" font-size="4.4" text-anchor="end" fill="#333">CDC45</text><text x="409.60" y="278.77" font-size="4.4" text-anchor="end" fill="#333">CBX1</text><text x="409.60" y="283.95" font-size="4.4" text-anchor="end" fill="#333">CCNF</text><text x="409.60" y="289.13" font-size="4.4" text-anchor="end" fill="#333">SLC7A5</text><text x="409.60" y="294.31" font-size="4.4" text-anchor="end" fill="#333">UCK2</text><text x="409.60" y="299.49" font-size="4.4" text-anchor="end" fill="#333">ESPL1</text><text x="409.60" y="304.67" font-size="4.4" text-anchor="end" fill="#333">MYBL2</text><text x="409.60" y="309.85" font-size="4.4" text-anchor="end" fill="#333">GINS2</text><text x="409.60" y="315.03" font-size="4.4" text-anchor="end" fill="#333">CDC6</text><text x="409.60" y="320.21" font-size="4.4" text-anchor="end" fill="#333">MCM5</text><text x="409.60" y="325.39" font-size="4.4" text-anchor="end" fill="#333">HMGB1</text><text x="409.60" y="330.57" font-size="4.4" text-anchor="end" fill="#333">E2F4</text><text x="409.60" y="335.75" font-size="4.4" text-anchor="end" fill="#333">EXO1</text><text x="409.60" y="340.93" font-size="4.4" text-anchor="end" fill="#333">MCM2</text><text x="409.60" y="346.11" font-size="4.4" text-anchor="end" fill="#333">PRMT5</text><text x="409.60" y="351.29" font-size="4.4" text-anchor="end" fill="#333">E2F3</text><text x="409.60" y="356.47" font-size="4.4" text-anchor="end" fill="#333">STIL</text><text x="409.60" y="361.65" font-size="4.4" text-anchor="end" fill="#333">SLC7A1</text><text x="409.60" y="366.83" font-size="4.4" text-anchor="end" fill="#333">CDK1</text><text x="409.60" y="372.01" font-size="4.4" text-anchor="end" fill="#333">RBM14</text><text x="425.70" y="254.70" font-size="7.0" text-anchor="middle" textLength="34.00" lengthAdjust="spacingAndGlyphs" stroke="#3b3b3b" stroke-width="0.22">G2-mitosis</text><text x="412.70" y="265.80" font-size="7.4" textLength="8.60" lengthAdjust="spacingAndGlyphs" fill="#d8204e" stroke="#d8204e" stroke-width="0.22">N1</text><text x="427.80" y="265.80" font-size="7.4" textLength="11.30" lengthAdjust="spacingAndGlyphs" fill="#3a7ac0" stroke="#3a7ac0" stroke-width="0.22">Ctrl</text><rect x="462.40" y="269.40" width="5.25" height="5.23" fill="rgb(252,237,237)" /><rect x="467.60" y="269.40" width="5.25" height="5.23" fill="rgb(240,130,133)" /><rect x="472.80" y="269.40" width="5.25" height="5.23" fill="rgb(243,159,162)" /><rect x="478.00" y="269.40" width="5.25" height="5.23" fill="rgb(217,225,249)" /><rect x="483.20" y="269.40" width="5.25" height="5.23" fill="rgb(196,209,247)" /><rect x="488.40" y="269.40" width="5.25" height="5.23" fill="rgb(165,185,243)" /><rect x="462.40" y="274.58" width="5.25" height="5.23" fill="rgb(254,247,248)" /><rect x="467.60" y="274.58" width="5.25" height="5.23" fill="rgb(249,208,210)" /><rect x="472.80" y="274.58" width="5.25" height="5.23" fill="rgb(244,246,253)" /><rect x="478.00" y="274.58" width="5.25" height="5.23" fill="rgb(52,97,228)" /><rect x="483.20" y="274.58" width="5.25" height="5.23" fill="rgb(120,150,237)" /><rect x="488.40" y="274.58" width="5.25" height="5.23" fill="rgb(155,177,241)" /><rect x="462.40" y="279.76" width="5.25" height="5.23" fill="rgb(228,30,36)" /><rect x="467.60" y="279.76" width="5.25" height="5.23" fill="rgb(229,41,46)" /><rect x="472.80" y="279.76" width="5.25" height="5.23" fill="rgb(243,160,163)" /><rect x="478.00" y="279.76" width="5.25" height="5.23" fill="rgb(30,80,225)" /><rect x="483.20" y="279.76" width="5.25" height="5.23" fill="rgb(30,80,225)" /><rect x="488.40" y="279.76" width="5.25" height="5.23" fill="rgb(30,80,225)" /><rect x="462.40" y="284.94" width="5.25" height="5.23" fill="rgb(236,98,102)" /><rect x="467.60" y="284.94" width="5.25" height="5.23" fill="rgb(252,237,238)" /><rect x="472.80" y="284.94" width="5.25" height="5.23" fill="rgb(239,125,128)" /><rect x="478.00" y="284.94" width="5.25" height="5.23" fill="rgb(94,130,233)" /><rect x="483.20" y="284.94" width="5.25" height="5.23" fill="rgb(113,145,236)" /><rect x="488.40" y="284.94" width="5.25" height="5.23" fill="rgb(30,80,225)" /><rect x="462.40" y="290.12" width="5.25" height="5.23" fill="rgb(243,158,161)" /><rect x="467.60" y="290.12" width="5.25" height="5.23" fill="rgb(244,169,172)" /><rect x="472.80" y="290.12" width="5.25" height="5.23" fill="rgb(246,181,183)" /><rect x="478.00" y="290.12" width="5.25" height="5.23" fill="rgb(184,200,245)" /><rect x="483.20" y="290.12" width="5.25" height="5.23" fill="rgb(110,142,235)" /><rect x="488.40" y="290.12" width="5.25" height="5.23" fill="rgb(174,192,244)" /><rect x="462.40" y="295.30" width="5.25" height="5.23" fill="rgb(243,158,160)" /><rect x="467.60" y="295.30" width="5.25" height="5.23" fill="rgb(245,178,180)" /><rect x="472.80" y="295.30" width="5.25" height="5.23" fill="rgb(217,226,250)" /><rect x="478.00" y="295.30" width="5.25" height="5.23" fill="rgb(146,170,240)" /><rect x="483.20" y="295.30" width="5.25" height="5.23" fill="rgb(155,177,241)" /><rect x="488.40" y="295.30" width="5.25" height="5.23" fill="rgb(104,137,234)" /><rect x="462.40" y="300.48" width="5.25" height="5.23" fill="rgb(245,173,175)" /><rect x="467.60" y="300.48" width="5.25" height="5.23" fill="rgb(239,127,131)" /><rect x="472.80" y="300.48" width="5.25" height="5.23" fill="rgb(245,178,180)" /><rect x="478.00" y="300.48" width="5.25" height="5.23" fill="rgb(205,216,248)" /><rect x="483.20" y="300.48" width="5.25" height="5.23" fill="rgb(128,156,238)" /><rect x="488.40" y="300.48" width="5.25" height="5.23" fill="rgb(120,150,237)" /><rect x="462.40" y="305.66" width="5.25" height="5.23" fill="rgb(245,174,177)" /><rect x="467.60" y="305.66" width="5.25" height="5.23" fill="rgb(250,217,218)" /><rect x="472.80" y="305.66" width="5.25" height="5.23" fill="rgb(254,246,247)" /><rect x="478.00" y="305.66" width="5.25" height="5.23" fill="rgb(173,191,244)" /><rect x="483.20" y="305.66" width="5.25" height="5.23" fill="rgb(159,180,242)" /><rect x="488.40" y="305.66" width="5.25" height="5.23" fill="rgb(184,199,245)" /><rect x="462.40" y="310.84" width="5.25" height="5.23" fill="rgb(250,216,217)" /><rect x="467.60" y="310.84" width="5.25" height="5.23" fill="rgb(248,200,202)" /><rect x="472.80" y="310.84" width="5.25" height="5.23" fill="rgb(244,166,169)" /><rect x="478.00" y="310.84" width="5.25" height="5.23" fill="rgb(139,165,239)" /><rect x="483.20" y="310.84" width="5.25" height="5.23" fill="rgb(150,173,241)" /><rect x="488.40" y="310.84" width="5.25" height="5.23" fill="rgb(169,188,243)" /><rect x="462.40" y="316.02" width="5.25" height="5.23" fill="rgb(249,205,207)" /><rect x="467.60" y="316.02" width="5.25" height="5.23" fill="rgb(244,169,171)" /><rect x="472.80" y="316.02" width="5.25" height="5.23" fill="rgb(252,232,233)" /><rect x="478.00" y="316.02" width="5.25" height="5.23" fill="rgb(173,191,244)" /><rect x="483.20" y="316.02" width="5.25" height="5.23" fill="rgb(253,244,244)" /><rect x="488.40" y="316.02" width="5.25" height="5.23" fill="rgb(180,196,245)" /><rect x="462.40" y="321.20" width="5.25" height="5.23" fill="rgb(250,220,221)" /><rect x="467.60" y="321.20" width="5.25" height="5.23" fill="rgb(244,246,253)" /><rect x="472.80" y="321.20" width="5.25" height="5.23" fill="rgb(254,248,248)" /><rect x="478.00" y="321.20" width="5.25" height="5.23" fill="rgb(169,188,243)" /><rect x="483.20" y="321.20" width="5.25" height="5.23" fill="rgb(148,172,240)" /><rect x="488.40" y="321.20" width="5.25" height="5.23" fill="rgb(201,213,247)" /><rect x="462.40" y="326.38" width="5.25" height="5.23" fill="rgb(251,226,226)" /><rect x="467.60" y="326.38" width="5.25" height="5.23" fill="rgb(248,203,204)" /><rect x="472.80" y="326.38" width="5.25" height="5.23" fill="rgb(228,30,36)" /><rect x="478.00" y="326.38" width="5.25" height="5.23" fill="rgb(239,243,252)" /><rect x="483.20" y="326.38" width="5.25" height="5.23" fill="rgb(30,80,225)" /><rect x="488.40" y="326.38" width="5.25" height="5.23" fill="rgb(30,80,225)" /><rect x="462.40" y="331.56" width="5.25" height="5.23" fill="rgb(253,238,239)" /><rect x="467.60" y="331.56" width="5.25" height="5.23" fill="rgb(253,239,239)" /><rect x="472.80" y="331.56" width="5.25" height="5.23" fill="rgb(252,237,238)" /><rect x="478.00" y="331.56" width="5.25" height="5.23" fill="rgb(254,252,252)" /><rect x="483.20" y="331.56" width="5.25" height="5.23" fill="rgb(195,208,247)" /><rect x="488.40" y="331.56" width="5.25" height="5.23" fill="rgb(172,190,244)" /><rect x="462.40" y="336.74" width="5.25" height="5.23" fill="rgb(252,237,237)" /><rect x="467.60" y="336.74" width="5.25" height="5.23" fill="rgb(253,242,242)" /><rect x="472.80" y="336.74" width="5.25" height="5.23" fill="rgb(247,191,193)" /><rect x="478.00" y="336.74" width="5.25" height="5.23" fill="rgb(200,212,247)" /><rect x="483.20" y="336.74" width="5.25" height="5.23" fill="rgb(165,185,243)" /><rect x="488.40" y="336.74" width="5.25" height="5.23" fill="rgb(129,157,238)" /><rect x="462.40" y="341.92" width="5.25" height="5.23" fill="rgb(248,198,199)" /><rect x="467.60" y="341.92" width="5.25" height="5.23" fill="rgb(251,225,226)" /><rect x="472.80" y="341.92" width="5.25" height="5.23" fill="rgb(242,154,157)" /><rect x="478.00" y="341.92" width="5.25" height="5.23" fill="rgb(172,190,244)" /><rect x="483.20" y="341.92" width="5.25" height="5.23" fill="rgb(228,234,251)" /><rect x="488.40" y="341.92" width="5.25" height="5.23" fill="rgb(195,208,247)" /><rect x="462.40" y="347.10" width="5.25" height="5.23" fill="rgb(245,178,180)" /><rect x="467.60" y="347.10" width="5.25" height="5.23" fill="rgb(252,235,236)" /><rect x="472.80" y="347.10" width="5.25" height="5.23" fill="rgb(246,182,184)" /><rect x="478.00" y="347.10" width="5.25" height="5.23" fill="rgb(161,182,242)" /><rect x="483.20" y="347.10" width="5.25" height="5.23" fill="rgb(154,176,241)" /><rect x="488.40" y="347.10" width="5.25" height="5.23" fill="rgb(184,200,245)" /><rect x="462.40" y="352.28" width="5.25" height="5.23" fill="rgb(246,186,187)" /><rect x="467.60" y="352.28" width="5.25" height="5.23" fill="rgb(251,227,227)" /><rect x="472.80" y="352.28" width="5.25" height="5.23" fill="rgb(244,171,173)" /><rect x="478.00" y="352.28" width="5.25" height="5.23" fill="rgb(250,251,254)" /><rect x="483.20" y="352.28" width="5.25" height="5.23" fill="rgb(165,185,243)" /><rect x="488.40" y="352.28" width="5.25" height="5.23" fill="rgb(200,212,247)" /><rect x="462.40" y="357.46" width="5.25" height="5.23" fill="rgb(240,135,138)" /><rect x="467.60" y="357.46" width="5.25" height="5.23" fill="rgb(246,183,185)" /><rect x="472.80" y="357.46" width="5.25" height="5.23" fill="rgb(248,201,202)" /><rect x="478.00" y="357.46" width="5.25" height="5.23" fill="rgb(163,184,242)" /><rect x="483.20" y="357.46" width="5.25" height="5.23" fill="rgb(189,204,246)" /><rect x="488.40" y="357.46" width="5.25" height="5.23" fill="rgb(200,212,247)" /><rect x="462.40" y="362.64" width="5.25" height="5.23" fill="rgb(250,215,217)" /><rect x="467.60" y="362.64" width="5.25" height="5.23" fill="rgb(248,202,204)" /><rect x="472.80" y="362.64" width="5.25" height="5.23" fill="rgb(247,190,192)" /><rect x="478.00" y="362.64" width="5.25" height="5.23" fill="rgb(134,161,238)" /><rect x="483.20" y="362.64" width="5.25" height="5.23" fill="rgb(169,188,243)" /><rect x="488.40" y="362.64" width="5.25" height="5.23" fill="rgb(149,172,240)" /><rect x="462.40" y="367.82" width="5.25" height="5.23" fill="rgb(253,241,241)" /><rect x="467.60" y="367.82" width="5.25" height="5.23" fill="rgb(254,251,251)" /><rect x="472.80" y="367.82" width="5.25" height="5.23" fill="rgb(253,241,241)" /><rect x="478.00" y="367.82" width="5.25" height="5.23" fill="rgb(164,184,242)" /><rect x="483.20" y="367.82" width="5.25" height="5.23" fill="rgb(253,240,240)" /><rect x="488.40" y="367.82" width="5.25" height="5.23" fill="rgb(190,205,246)" /><rect x="462.40" y="269.40" width="31.20" height="103.60" fill="none" stroke="#1a1a2a" stroke-width="1.1"/><text x="461.00" y="273.59" font-size="4.4" text-anchor="end" fill="#333">RRM2</text><text x="461.00" y="278.77" font-size="4.4" text-anchor="end" fill="#333">DHCR24</text><text x="461.00" y="283.95" font-size="4.4" text-anchor="end" fill="#333">LDLR</text><text x="461.00" y="289.13" font-size="4.4" text-anchor="end" fill="#333">STIP1</text><text x="461.00" y="294.31" font-size="4.4" text-anchor="end" fill="#333">CD9</text><text x="461.00" y="299.49" font-size="4.4" text-anchor="end" fill="#333">CYP51A1</text><text x="461.00" y="304.67" font-size="4.4" text-anchor="end" fill="#333">HSPD1</text><text x="461.00" y="309.85" font-size="4.4" text-anchor="end" fill="#333">HSPE1</text><text x="461.00" y="315.03" font-size="4.4" text-anchor="end" fill="#333">CCNF</text><text x="461.00" y="320.21" font-size="4.4" text-anchor="end" fill="#333">CDKN1A</text><text x="461.00" y="325.39" font-size="4.4" text-anchor="end" fill="#333">MCM4</text><text x="461.00" y="330.57" font-size="4.4" text-anchor="end" fill="#333">SLC7A5</text><text x="461.00" y="335.75" font-size="4.4" text-anchor="end" fill="#333">HSPA5</text><text x="461.00" y="340.93" font-size="4.4" text-anchor="end" fill="#333">ACACA</text><text x="461.00" y="346.11" font-size="4.4" text-anchor="end" fill="#333">SLC1A5</text><text x="461.00" y="351.29" font-size="4.4" text-anchor="end" fill="#333">XBP1</text><text x="461.00" y="356.47" font-size="4.4" text-anchor="end" fill="#333">PSPH</text><text x="461.00" y="361.65" font-size="4.4" text-anchor="end" fill="#333">HSP90B1</text><text x="461.00" y="366.83" font-size="4.4" text-anchor="end" fill="#333">SDF2L1</text><text x="461.00" y="372.01" font-size="4.4" text-anchor="end" fill="#333">CALR</text><text x="479.90" y="254.70" font-size="7.0" text-anchor="middle" textLength="32.50" lengthAdjust="spacingAndGlyphs" stroke="#3b3b3b" stroke-width="0.22">mTORC1</text><text x="464.10" y="265.80" font-size="7.4" textLength="8.60" lengthAdjust="spacingAndGlyphs" fill="#d8204e" stroke="#d8204e" stroke-width="0.22">N1</text><text x="479.20" y="265.80" font-size="7.4" textLength="11.30" lengthAdjust="spacingAndGlyphs" fill="#3a7ac0" stroke="#3a7ac0" stroke-width="0.22">Ctrl</text><linearGradient id="hmleg" x1="0" x2="0" y1="0" y2="1"><stop offset="0" stop-color="#e4261f"/><stop offset="0.5" stop-color="#ffffff"/><stop offset="1" stop-color="#1e50e1"/></linearGradient><rect x="498.40" y="307.90" width="10.20" height="24.50" fill="url(#hmleg)" stroke="#222" stroke-width="0.9"/><line x1="498.40" y1="320.30" x2="499.80" y2="320.30" stroke="#222" stroke-width="0.7" /><line x1="507.20" y1="320.30" x2="508.60" y2="320.30" stroke="#222" stroke-width="0.7" /><text x="512.00" y="311.60" font-size="7.2" textLength="3.40" lengthAdjust="spacingAndGlyphs" stroke="#3b3b3b" stroke-width="0.22">1</text><text x="511.90" y="321.50" font-size="7.2" textLength="4.30" lengthAdjust="spacingAndGlyphs" stroke="#3b3b3b" stroke-width="0.22">0</text><text x="511.60" y="332.70" font-size="7.2" textLength="7.50" lengthAdjust="spacingAndGlyphs" stroke="#3b3b3b" stroke-width="0.22">−1</text><text x="1.10" y="410.50" font-size="11" textLength="9.10" lengthAdjust="spacingAndGlyphs" fill="#000" font-weight="bold" stroke="#000" stroke-width="0.45">G</text><line x1="39.60" y1="416.60" x2="39.60" y2="484.70" stroke="#111" stroke-width="1.4" /><line x1="39.10" y1="484.20" x2="136.00" y2="484.20" stroke="#111" stroke-width="1.4" /><line x1="36.40" y1="484.20" x2="39.60" y2="484.20" stroke="#111" stroke-width="1.2" /><text x="34.00" y="486.80" font-size="7.5" text-anchor="end" textLength="10.40" lengthAdjust="spacingAndGlyphs" stroke="#3b3b3b" stroke-width="0.22">10<tspan dy="-2.9" font-size="4.8">3</tspan></text><line x1="37.60" y1="480.35" x2="39.60" y2="480.35" stroke="#111" stroke-width="0.7" /><line x1="37.60" y1="478.09" x2="39.60" y2="478.09" stroke="#111" stroke-width="0.7" /><line x1="37.60" y1="476.49" x2="39.60" y2="476.49" stroke="#111" stroke-width="0.7" /><line x1="37.60" y1="475.25" x2="39.60" y2="475.25" stroke="#111" stroke-width="0.7" /><line x1="37.60" y1="474.24" x2="39.60" y2="474.24" stroke="#111" stroke-width="0.7" /><line x1="37.60" y1="473.38" x2="39.60" y2="473.38" stroke="#111" stroke-width="0.7" /><line x1="37.60" y1="472.64" x2="39.60" y2="472.64" stroke="#111" stroke-width="0.7" /><line x1="37.60" y1="471.99" x2="39.60" y2="471.99" stroke="#111" stroke-width="0.7" /><line x1="36.40" y1="471.40" x2="39.60" y2="471.40" stroke="#111" stroke-width="1.2" /><text x="34.00" y="474.00" font-size="7.5" text-anchor="end" textLength="10.40" lengthAdjust="spacingAndGlyphs" stroke="#3b3b3b" stroke-width="0.22">10<tspan dy="-2.9" font-size="4.8">4</tspan></text><line x1="37.60" y1="467.55" x2="39.60" y2="467.55" stroke="#111" stroke-width="0.7" /><line x1="37.60" y1="465.29" x2="39.60" y2="465.29" stroke="#111" stroke-width="0.7" /><line x1="37.60" y1="463.69" x2="39.60" y2="463.69" stroke="#111" stroke-width="0.7" /><line x1="37.60" y1="462.45" x2="39.60" y2="462.45" stroke="#111" stroke-width="0.7" /><line x1="37.60" y1="461.44" x2="39.60" y2="461.44" stroke="#111" stroke-width="0.7" /><line x1="37.60" y1="460.58" x2="39.60" y2="460.58" stroke="#111" stroke-width="0.7" /><line x1="37.60" y1="459.84" x2="39.60" y2="459.84" stroke="#111" stroke-width="0.7" /><line x1="37.60" y1="459.19" x2="39.60" y2="459.19" stroke="#111" stroke-width="0.7" /><line x1="36.40" y1="458.60" x2="39.60" y2="458.60" stroke="#111" stroke-width="1.2" /><text x="34.00" y="461.20" font-size="7.5" text-anchor="end" textLength="10.40" lengthAdjust="spacingAndGlyphs" stroke="#3b3b3b" stroke-width="0.22">10<tspan dy="-2.9" font-size="4.8">5</tspan></text><line x1="37.60" y1="454.75" x2="39.60" y2="454.75" stroke="#111" stroke-width="0.7" /><line x1="37.60" y1="452.49" x2="39.60" y2="452.49" stroke="#111" stroke-width="0.7" /><line x1="37.60" y1="450.89" x2="39.60" y2="450.89" stroke="#111" stroke-width="0.7" /><line x1="37.60" y1="449.65" x2="39.60" y2="449.65" stroke="#111" stroke-width="0.7" /><line x1="37.60" y1="448.64" x2="39.60" y2="448.64" stroke="#111" stroke-width="0.7" /><line x1="37.60" y1="447.78" x2="39.60" y2="447.78" stroke="#111" stroke-width="0.7" /><line x1="37.60" y1="447.04" x2="39.60" y2="447.04" stroke="#111" stroke-width="0.7" /><line x1="37.60" y1="446.39" x2="39.60" y2="446.39" stroke="#111" stroke-width="0.7" /><line x1="36.40" y1="445.80" x2="39.60" y2="445.80" stroke="#111" stroke-width="1.2" /><text x="34.00" y="448.40" font-size="7.5" text-anchor="end" textLength="10.40" lengthAdjust="spacingAndGlyphs" stroke="#3b3b3b" stroke-width="0.22">10<tspan dy="-2.9" font-size="4.8">6</tspan></text><line x1="37.60" y1="441.95" x2="39.60" y2="441.95" stroke="#111" stroke-width="0.7" /><line x1="37.60" y1="439.69" x2="39.60" y2="439.69" stroke="#111" stroke-width="0.7" /><line x1="37.60" y1="438.09" x2="39.60" y2="438.09" stroke="#111" stroke-width="0.7" /><line x1="37.60" y1="436.85" x2="39.60" y2="436.85" stroke="#111" stroke-width="0.7" /><line x1="37.60" y1="435.84" x2="39.60" y2="435.84" stroke="#111" stroke-width="0.7" /><line x1="37.60" y1="434.98" x2="39.60" y2="434.98" stroke="#111" stroke-width="0.7" /><line x1="37.60" y1="434.24" x2="39.60" y2="434.24" stroke="#111" stroke-width="0.7" /><line x1="37.60" y1="433.59" x2="39.60" y2="433.59" stroke="#111" stroke-width="0.7" /><line x1="36.40" y1="433.00" x2="39.60" y2="433.00" stroke="#111" stroke-width="1.2" /><text x="34.00" y="435.60" font-size="7.5" text-anchor="end" textLength="10.40" lengthAdjust="spacingAndGlyphs" stroke="#3b3b3b" stroke-width="0.22">10<tspan dy="-2.9" font-size="4.8">7</tspan></text><line x1="37.60" y1="429.15" x2="39.60" y2="429.15" stroke="#111" stroke-width="0.7" /><line x1="37.60" y1="426.89" x2="39.60" y2="426.89" stroke="#111" stroke-width="0.7" /><line x1="37.60" y1="425.29" x2="39.60" y2="425.29" stroke="#111" stroke-width="0.7" /><line x1="37.60" y1="424.05" x2="39.60" y2="424.05" stroke="#111" stroke-width="0.7" /><line x1="37.60" y1="423.04" x2="39.60" y2="423.04" stroke="#111" stroke-width="0.7" /><line x1="37.60" y1="422.18" x2="39.60" y2="422.18" stroke="#111" stroke-width="0.7" /><line x1="37.60" y1="421.44" x2="39.60" y2="421.44" stroke="#111" stroke-width="0.7" /><line x1="37.60" y1="420.79" x2="39.60" y2="420.79" stroke="#111" stroke-width="0.7" /><line x1="36.40" y1="420.20" x2="39.60" y2="420.20" stroke="#111" stroke-width="1.2" /><text x="34.00" y="422.80" font-size="7.5" text-anchor="end" textLength="10.40" lengthAdjust="spacingAndGlyphs" stroke="#3b3b3b" stroke-width="0.22">10<tspan dy="-2.9" font-size="4.8">8</tspan></text><line x1="45.50" y1="484.20" x2="45.50" y2="487.00" stroke="#111" stroke-width="1.2" /><text x="42.90" y="495.80" font-size="8.6" text-anchor="middle" textLength="7.20" lengthAdjust="spacingAndGlyphs" stroke="#3b3b3b" stroke-width="0.22">–1</text><line x1="58.15" y1="484.20" x2="58.15" y2="487.00" stroke="#111" stroke-width="1.2" /><text x="58.15" y="495.80" font-size="8.6" text-anchor="middle" textLength="4.10" lengthAdjust="spacingAndGlyphs" stroke="#3b3b3b" stroke-width="0.22">6</text><line x1="70.80" y1="484.20" x2="70.80" y2="487.00" stroke="#111" stroke-width="1.2" /><text x="70.80" y="495.80" font-size="8.6" text-anchor="middle" textLength="7.60" lengthAdjust="spacingAndGlyphs" stroke="#3b3b3b" stroke-width="0.22">10</text><line x1="83.45" y1="484.20" x2="83.45" y2="487.00" stroke="#111" stroke-width="1.2" /><text x="83.45" y="495.80" font-size="8.6" text-anchor="middle" textLength="7.60" lengthAdjust="spacingAndGlyphs" stroke="#3b3b3b" stroke-width="0.22">13</text><line x1="96.10" y1="484.20" x2="96.10" y2="487.00" stroke="#111" stroke-width="1.2" /><text x="96.10" y="495.80" font-size="8.6" text-anchor="middle" textLength="7.60" lengthAdjust="spacingAndGlyphs" stroke="#3b3b3b" stroke-width="0.22">20</text><line x1="108.75" y1="484.20" x2="108.75" y2="487.00" stroke="#111" stroke-width="1.2" /><text x="108.75" y="495.80" font-size="8.6" text-anchor="middle" textLength="7.60" lengthAdjust="spacingAndGlyphs" stroke="#3b3b3b" stroke-width="0.22">27</text><line x1="121.40" y1="484.20" x2="121.40" y2="487.00" stroke="#111" stroke-width="1.2" /><text x="121.40" y="495.80" font-size="8.6" text-anchor="middle" textLength="7.60" lengthAdjust="spacingAndGlyphs" stroke="#3b3b3b" stroke-width="0.22">34</text><line x1="134.05" y1="484.20" x2="134.05" y2="487.00" stroke="#111" stroke-width="1.2" /><text x="134.05" y="495.80" font-size="8.6" text-anchor="middle" textLength="7.60" lengthAdjust="spacingAndGlyphs" stroke="#3b3b3b" stroke-width="0.22">41</text><text x="90.00" y="508.80" font-size="8.6" text-anchor="middle" textLength="75.30" lengthAdjust="spacingAndGlyphs" stroke="#3b3b3b" stroke-width="0.22">Days post CAR-T injection</text><text x="8.40" y="450.00" font-size="8.2" text-anchor="middle" textLength="50.80" lengthAdjust="spacingAndGlyphs" stroke="#3b3b3b" stroke-width="0.22" transform="rotate(-90 8.40 450.00)">Average radiance</text><text x="17.70" y="449.50" font-size="8.2" text-anchor="middle" textLength="37.00" lengthAdjust="spacingAndGlyphs" stroke="#3b3b3b" stroke-width="0.22" transform="rotate(-90 17.70 449.50)">[p/s/cm<tspan dy="-2.6" font-size="5">2</tspan><tspan dy="2.6">/sr]</tspan></text><text x="47.10" y="423.40" font-size="7.6" textLength="19.30" lengthAdjust="spacingAndGlyphs" stroke="#3b3b3b" stroke-width="0.22">8×10<tspan dy="-3.2" font-size="5.2">5</tspan></text><line x1="58.15" y1="444.30" x2="58.15" y2="437.30" stroke="#111" stroke-width="1.0" /><line x1="56.15" y1="437.30" x2="60.15" y2="437.30" stroke="#111" stroke-width="1.1" /><line x1="70.80" y1="447.40" x2="70.80" y2="445.30" stroke="#111" stroke-width="1.0" /><line x1="68.80" y1="445.30" x2="72.80" y2="445.30" stroke="#111" stroke-width="1.1" /><line x1="83.45" y1="444.30" x2="83.45" y2="439.30" stroke="#111" stroke-width="1.0" /><line x1="81.45" y1="439.30" x2="85.45" y2="439.30" stroke="#111" stroke-width="1.1" /><line x1="96.10" y1="437.70" x2="96.10" y2="433.20" stroke="#111" stroke-width="1.0" /><line x1="94.10" y1="433.20" x2="98.10" y2="433.20" stroke="#111" stroke-width="1.1" /><line x1="108.75" y1="437.70" x2="108.75" y2="433.00" stroke="#111" stroke-width="1.0" /><line x1="106.75" y1="433.00" x2="110.75" y2="433.00" stroke="#111" stroke-width="1.1" /><line x1="121.40" y1="437.70" x2="121.40" y2="433.00" stroke="#111" stroke-width="1.0" /><line x1="119.40" y1="433.00" x2="123.40" y2="433.00" stroke="#111" stroke-width="1.1" /><line x1="134.05" y1="438.30" x2="134.05" y2="432.20" stroke="#111" stroke-width="1.0" /><line x1="132.05" y1="432.20" x2="136.05" y2="432.20" stroke="#111" stroke-width="1.1" /><line x1="58.15" y1="442.30" x2="58.15" y2="437.30" stroke="#111" stroke-width="1.0" /><line x1="56.15" y1="437.30" x2="60.15" y2="437.30" stroke="#111" stroke-width="1.1" /><line x1="70.80" y1="436.30" x2="70.80" y2="431.20" stroke="#111" stroke-width="1.0" /><line x1="68.80" y1="431.20" x2="72.80" y2="431.20" stroke="#111" stroke-width="1.1" /><line x1="83.45" y1="431.80" x2="83.45" y2="429.00" stroke="#111" stroke-width="1.0" /><line x1="81.45" y1="429.00" x2="85.45" y2="429.00" stroke="#111" stroke-width="1.1" /><line x1="96.10" y1="431.80" x2="96.10" y2="428.20" stroke="#111" stroke-width="1.0" /><line x1="94.10" y1="428.20" x2="98.10" y2="428.20" stroke="#111" stroke-width="1.1" /><line x1="108.75" y1="428.60" x2="108.75" y2="423.70" stroke="#111" stroke-width="1.0" /><line x1="106.75" y1="423.70" x2="110.75" y2="423.70" stroke="#111" stroke-width="1.1" /><line x1="121.40" y1="430.20" x2="121.40" y2="424.50" stroke="#111" stroke-width="1.0" /><line x1="119.40" y1="424.50" x2="123.40" y2="424.50" stroke="#111" stroke-width="1.1" /><line x1="134.05" y1="426.60" x2="134.05" y2="420.50" stroke="#111" stroke-width="1.0" /><line x1="132.05" y1="420.50" x2="136.05" y2="420.50" stroke="#111" stroke-width="1.1" /><line x1="70.80" y1="434.20" x2="70.80" y2="431.20" stroke="#111" stroke-width="1.0" /><line x1="68.80" y1="431.20" x2="72.80" y2="431.20" stroke="#111" stroke-width="1.1" /><line x1="83.45" y1="427.20" x2="83.45" y2="422.50" stroke="#111" stroke-width="1.0" /><line x1="81.45" y1="422.50" x2="85.45" y2="422.50" stroke="#111" stroke-width="1.1" /><line x1="58.15" y1="440.30" x2="58.15" y2="437.00" stroke="#111" stroke-width="1.0" /><line x1="56.15" y1="437.00" x2="60.15" y2="437.00" stroke="#111" stroke-width="1.1" /><path d="M45.50,468.60 L58.15,440.30 L70.80,434.20 L83.45,427.20" stroke="#2fae5a" stroke-width="1.7" fill="none" /><path d="M45.50,468.60 L58.15,442.30 L70.80,436.30 L83.45,431.80 L96.10,431.80 L108.75,428.60 L121.40,430.20 L134.05,426.60" stroke="#1f5f86" stroke-width="1.7" fill="none" /><path d="M45.50,468.60 L58.15,444.30 L70.80,447.40 L83.45,444.30 L96.10,437.70 L108.75,437.70 L121.40,437.70 L134.05,438.30" stroke="#d8204e" stroke-width="1.7" fill="none" /><path d="M43.70,467.10 L47.30,467.10 L45.50,470.20 Z" stroke="none" stroke-width="1" fill="#222" /><text x="57.20" y="461.30" font-size="6.8" text-anchor="middle" textLength="9.60" lengthAdjust="spacingAndGlyphs" fill="#444" stroke="#444" stroke-width="0.22" font-style="italic">n.s.</text><text x="71.30" y="461.70" font-size="7.2" text-anchor="middle" textLength="9.00" lengthAdjust="spacingAndGlyphs" fill="#333" stroke="#333" stroke-width="0.22">***</text><text x="83.90" y="456.80" font-size="7.2" text-anchor="middle" textLength="9.00" lengthAdjust="spacingAndGlyphs" fill="#333" stroke="#333" stroke-width="0.22">***</text><text x="96.50" y="449.20" font-size="6.8" text-anchor="middle" textLength="9.60" lengthAdjust="spacingAndGlyphs" fill="#444" stroke="#444" stroke-width="0.22" font-style="italic">n.s.</text><text x="108.90" y="447.10" font-size="6.8" text-anchor="middle" textLength="9.60" lengthAdjust="spacingAndGlyphs" fill="#444" stroke="#444" stroke-width="0.22" font-style="italic">n.s.</text><text x="121.20" y="447.10" font-size="6.8" text-anchor="middle" textLength="9.60" lengthAdjust="spacingAndGlyphs" fill="#444" stroke="#444" stroke-width="0.22" font-style="italic">n.s.</text><text x="133.80" y="445.10" font-size="6.8" text-anchor="middle" textLength="9.60" lengthAdjust="spacingAndGlyphs" fill="#444" stroke="#444" stroke-width="0.22" font-style="italic">n.s.</text><line x1="201.20" y1="416.60" x2="201.20" y2="484.70" stroke="#111" stroke-width="1.4" /><line x1="200.70" y1="484.20" x2="302.60" y2="484.20" stroke="#111" stroke-width="1.4" /><line x1="198.00" y1="484.20" x2="201.20" y2="484.20" stroke="#111" stroke-width="1.2" /><text x="195.60" y="486.80" font-size="7.5" text-anchor="end" textLength="10.40" lengthAdjust="spacingAndGlyphs" stroke="#3b3b3b" stroke-width="0.22">10<tspan dy="-2.9" font-size="4.8">3</tspan></text><line x1="199.20" y1="480.35" x2="201.20" y2="480.35" stroke="#111" stroke-width="0.7" /><line x1="199.20" y1="478.09" x2="201.20" y2="478.09" stroke="#111" stroke-width="0.7" /><line x1="199.20" y1="476.49" x2="201.20" y2="476.49" stroke="#111" stroke-width="0.7" /><line x1="199.20" y1="475.25" x2="201.20" y2="475.25" stroke="#111" stroke-width="0.7" /><line x1="199.20" y1="474.24" x2="201.20" y2="474.24" stroke="#111" stroke-width="0.7" /><line x1="199.20" y1="473.38" x2="201.20" y2="473.38" stroke="#111" stroke-width="0.7" /><line x1="199.20" y1="472.64" x2="201.20" y2="472.64" stroke="#111" stroke-width="0.7" /><line x1="199.20" y1="471.99" x2="201.20" y2="471.99" stroke="#111" stroke-width="0.7" /><line x1="198.00" y1="471.40" x2="201.20" y2="471.40" stroke="#111" stroke-width="1.2" /><text x="195.60" y="474.00" font-size="7.5" text-anchor="end" textLength="10.40" lengthAdjust="spacingAndGlyphs" stroke="#3b3b3b" stroke-width="0.22">10<tspan dy="-2.9" font-size="4.8">4</tspan></text><line x1="199.20" y1="467.55" x2="201.20" y2="467.55" stroke="#111" stroke-width="0.7" /><line x1="199.20" y1="465.29" x2="201.20" y2="465.29" stroke="#111" stroke-width="0.7" /><line x1="199.20" y1="463.69" x2="201.20" y2="463.69" stroke="#111" stroke-width="0.7" /><line x1="199.20" y1="462.45" x2="201.20" y2="462.45" stroke="#111" stroke-width="0.7" /><line x1="199.20" y1="461.44" x2="201.20" y2="461.44" stroke="#111" stroke-width="0.7" /><line x1="199.20" y1="460.58" x2="201.20" y2="460.58" stroke="#111" stroke-width="0.7" /><line x1="199.20" y1="459.84" x2="201.20" y2="459.84" stroke="#111" stroke-width="0.7" /><line x1="199.20" y1="459.19" x2="201.20" y2="459.19" stroke="#111" stroke-width="0.7" /><line x1="198.00" y1="458.60" x2="201.20" y2="458.60" stroke="#111" stroke-width="1.2" /><text x="195.60" y="461.20" font-size="7.5" text-anchor="end" textLength="10.40" lengthAdjust="spacingAndGlyphs" stroke="#3b3b3b" stroke-width="0.22">10<tspan dy="-2.9" font-size="4.8">5</tspan></text><line x1="199.20" y1="454.75" x2="201.20" y2="454.75" stroke="#111" stroke-width="0.7" /><line x1="199.20" y1="452.49" x2="201.20" y2="452.49" stroke="#111" stroke-width="0.7" /><line x1="199.20" y1="450.89" x2="201.20" y2="450.89" stroke="#111" stroke-width="0.7" /><line x1="199.20" y1="449.65" x2="201.20" y2="449.65" stroke="#111" stroke-width="0.7" /><line x1="199.20" y1="448.64" x2="201.20" y2="448.64" stroke="#111" stroke-width="0.7" /><line x1="199.20" y1="447.78" x2="201.20" y2="447.78" stroke="#111" stroke-width="0.7" /><line x1="199.20" y1="447.04" x2="201.20" y2="447.04" stroke="#111" stroke-width="0.7" /><line x1="199.20" y1="446.39" x2="201.20" y2="446.39" stroke="#111" stroke-width="0.7" /><line x1="198.00" y1="445.80" x2="201.20" y2="445.80" stroke="#111" stroke-width="1.2" /><text x="195.60" y="448.40" font-size="7.5" text-anchor="end" textLength="10.40" lengthAdjust="spacingAndGlyphs" stroke="#3b3b3b" stroke-width="0.22">10<tspan dy="-2.9" font-size="4.8">6</tspan></text><line x1="199.20" y1="441.95" x2="201.20" y2="441.95" stroke="#111" stroke-width="0.7" /><line x1="199.20" y1="439.69" x2="201.20" y2="439.69" stroke="#111" stroke-width="0.7" /><line x1="199.20" y1="438.09" x2="201.20" y2="438.09" stroke="#111" stroke-width="0.7" /><line x1="199.20" y1="436.85" x2="201.20" y2="436.85" stroke="#111" stroke-width="0.7" /><line x1="199.20" y1="435.84" x2="201.20" y2="435.84" stroke="#111" stroke-width="0.7" /><line x1="199.20" y1="434.98" x2="201.20" y2="434.98" stroke="#111" stroke-width="0.7" /><line x1="199.20" y1="434.24" x2="201.20" y2="434.24" stroke="#111" stroke-width="0.7" /><line x1="199.20" y1="433.59" x2="201.20" y2="433.59" stroke="#111" stroke-width="0.7" /><line x1="198.00" y1="433.00" x2="201.20" y2="433.00" stroke="#111" stroke-width="1.2" /><text x="195.60" y="435.60" font-size="7.5" text-anchor="end" textLength="10.40" lengthAdjust="spacingAndGlyphs" stroke="#3b3b3b" stroke-width="0.22">10<tspan dy="-2.9" font-size="4.8">7</tspan></text><line x1="199.20" y1="429.15" x2="201.20" y2="429.15" stroke="#111" stroke-width="0.7" /><line x1="199.20" y1="426.89" x2="201.20" y2="426.89" stroke="#111" stroke-width="0.7" /><line x1="199.20" y1="425.29" x2="201.20" y2="425.29" stroke="#111" stroke-width="0.7" /><line x1="199.20" y1="424.05" x2="201.20" y2="424.05" stroke="#111" stroke-width="0.7" /><line x1="199.20" y1="423.04" x2="201.20" y2="423.04" stroke="#111" stroke-width="0.7" /><line x1="199.20" y1="422.18" x2="201.20" y2="422.18" stroke="#111" stroke-width="0.7" /><line x1="199.20" y1="421.44" x2="201.20" y2="421.44" stroke="#111" stroke-width="0.7" /><line x1="199.20" y1="420.79" x2="201.20" y2="420.79" stroke="#111" stroke-width="0.7" /><line x1="198.00" y1="420.20" x2="201.20" y2="420.20" stroke="#111" stroke-width="1.2" /><text x="195.60" y="422.80" font-size="7.5" text-anchor="end" textLength="10.40" lengthAdjust="spacingAndGlyphs" stroke="#3b3b3b" stroke-width="0.22">10<tspan dy="-2.9" font-size="4.8">8</tspan></text><line x1="207.40" y1="484.20" x2="207.40" y2="487.00" stroke="#111" stroke-width="1.2" /><text x="204.80" y="495.80" font-size="8.6" text-anchor="middle" textLength="7.20" lengthAdjust="spacingAndGlyphs" stroke="#3b3b3b" stroke-width="0.22">–1</text><line x1="220.05" y1="484.20" x2="220.05" y2="487.00" stroke="#111" stroke-width="1.2" /><text x="220.05" y="495.80" font-size="8.6" text-anchor="middle" textLength="4.10" lengthAdjust="spacingAndGlyphs" stroke="#3b3b3b" stroke-width="0.22">6</text><line x1="232.70" y1="484.20" x2="232.70" y2="487.00" stroke="#111" stroke-width="1.2" /><text x="232.70" y="495.80" font-size="8.6" text-anchor="middle" textLength="7.60" lengthAdjust="spacingAndGlyphs" stroke="#3b3b3b" stroke-width="0.22">10</text><line x1="245.35" y1="484.20" x2="245.35" y2="487.00" stroke="#111" stroke-width="1.2" /><text x="245.35" y="495.80" font-size="8.6" text-anchor="middle" textLength="7.60" lengthAdjust="spacingAndGlyphs" stroke="#3b3b3b" stroke-width="0.22">13</text><line x1="258.00" y1="484.20" x2="258.00" y2="487.00" stroke="#111" stroke-width="1.2" /><text x="258.00" y="495.80" font-size="8.6" text-anchor="middle" textLength="7.60" lengthAdjust="spacingAndGlyphs" stroke="#3b3b3b" stroke-width="0.22">20</text><line x1="270.65" y1="484.20" x2="270.65" y2="487.00" stroke="#111" stroke-width="1.2" /><text x="270.65" y="495.80" font-size="8.6" text-anchor="middle" textLength="7.60" lengthAdjust="spacingAndGlyphs" stroke="#3b3b3b" stroke-width="0.22">27</text><line x1="283.30" y1="484.20" x2="283.30" y2="487.00" stroke="#111" stroke-width="1.2" /><text x="283.30" y="495.80" font-size="8.6" text-anchor="middle" textLength="7.60" lengthAdjust="spacingAndGlyphs" stroke="#3b3b3b" stroke-width="0.22">34</text><line x1="295.95" y1="484.20" x2="295.95" y2="487.00" stroke="#111" stroke-width="1.2" /><text x="295.95" y="495.80" font-size="8.6" text-anchor="middle" textLength="7.60" lengthAdjust="spacingAndGlyphs" stroke="#3b3b3b" stroke-width="0.22">41</text><text x="251.60" y="508.80" font-size="8.6" text-anchor="middle" textLength="75.30" lengthAdjust="spacingAndGlyphs" stroke="#3b3b3b" stroke-width="0.22">Days post CAR-T injection</text><text x="170.80" y="450.00" font-size="8.2" text-anchor="middle" textLength="50.80" lengthAdjust="spacingAndGlyphs" stroke="#3b3b3b" stroke-width="0.22" transform="rotate(-90 170.80 450.00)">Average radiance</text><text x="179.60" y="449.50" font-size="8.2" text-anchor="middle" textLength="37.00" lengthAdjust="spacingAndGlyphs" stroke="#3b3b3b" stroke-width="0.22" transform="rotate(-90 179.60 449.50)">[p/s/cm<tspan dy="-2.6" font-size="5">2</tspan><tspan dy="2.6">/sr]</tspan></text><text x="207.70" y="423.40" font-size="7.6" textLength="26.50" lengthAdjust="spacingAndGlyphs" stroke="#3b3b3b" stroke-width="0.22">1.6×10<tspan dy="-3.2" font-size="5.2">6</tspan></text><line x1="232.70" y1="449.80" x2="232.70" y2="446.40" stroke="#111" stroke-width="1.0" /><line x1="230.70" y1="446.40" x2="234.70" y2="446.40" stroke="#111" stroke-width="1.1" /><line x1="245.35" y1="445.50" x2="245.35" y2="441.30" stroke="#111" stroke-width="1.0" /><line x1="243.35" y1="441.30" x2="247.35" y2="441.30" stroke="#111" stroke-width="1.1" /><line x1="258.00" y1="442.20" x2="258.00" y2="439.00" stroke="#111" stroke-width="1.0" /><line x1="256.00" y1="439.00" x2="260.00" y2="439.00" stroke="#111" stroke-width="1.1" /><line x1="295.95" y1="446.40" x2="295.95" y2="439.60" stroke="#111" stroke-width="1.0" /><line x1="293.95" y1="439.60" x2="297.95" y2="439.60" stroke="#111" stroke-width="1.1" /><line x1="220.05" y1="442.80" x2="220.05" y2="437.50" stroke="#111" stroke-width="1.0" /><line x1="218.05" y1="437.50" x2="222.05" y2="437.50" stroke="#111" stroke-width="1.1" /><line x1="245.35" y1="436.40" x2="245.35" y2="432.80" stroke="#111" stroke-width="1.0" /><line x1="243.35" y1="432.80" x2="247.35" y2="432.80" stroke="#111" stroke-width="1.1" /><line x1="258.00" y1="437.00" x2="258.00" y2="434.30" stroke="#111" stroke-width="1.0" /><line x1="256.00" y1="434.30" x2="260.00" y2="434.30" stroke="#111" stroke-width="1.1" /><line x1="270.65" y1="443.80" x2="270.65" y2="439.60" stroke="#111" stroke-width="1.0" /><line x1="268.65" y1="439.60" x2="272.65" y2="439.60" stroke="#111" stroke-width="1.1" /><line x1="283.30" y1="457.00" x2="283.30" y2="450.20" stroke="#111" stroke-width="1.0" /><line x1="281.30" y1="450.20" x2="285.30" y2="450.20" stroke="#111" stroke-width="1.1" /><line x1="295.95" y1="459.70" x2="295.95" y2="454.40" stroke="#111" stroke-width="1.0" /><line x1="293.95" y1="454.40" x2="297.95" y2="454.40" stroke="#111" stroke-width="1.1" /><line x1="232.70" y1="433.30" x2="232.70" y2="431.20" stroke="#111" stroke-width="1.0" /><line x1="230.70" y1="431.20" x2="234.70" y2="431.20" stroke="#111" stroke-width="1.1" /><line x1="245.35" y1="425.20" x2="245.35" y2="421.60" stroke="#111" stroke-width="1.0" /><line x1="243.35" y1="421.60" x2="247.35" y2="421.60" stroke="#111" stroke-width="1.1" /><path d="M207.40,470.30 L220.05,441.30 L232.70,433.30 L245.35,425.20" stroke="#2fae5a" stroke-width="1.7" fill="none" /><path d="M207.40,470.30 L220.05,442.80 L232.70,438.10 L245.35,436.40 L258.00,437.00 L270.65,443.80 L283.30,457.00 L295.95,459.70" stroke="#1f5f86" stroke-width="1.7" fill="none" /><path d="M207.40,470.30 L220.05,446.00 L232.70,449.80 L245.35,445.50 L258.00,442.20 L270.65,444.90 L283.30,455.00 L295.95,446.40" stroke="#d8204e" stroke-width="1.7" fill="none" /><path d="M205.60,468.80 L209.20,468.80 L207.40,471.90 Z" stroke="none" stroke-width="1" fill="#222" /><text x="221.20" y="459.40" font-size="6.8" text-anchor="middle" textLength="9.60" lengthAdjust="spacingAndGlyphs" fill="#444" stroke="#444" stroke-width="0.22" font-style="italic">n.s.</text><text x="233.40" y="460.80" font-size="7.2" text-anchor="middle" textLength="9.00" lengthAdjust="spacingAndGlyphs" fill="#333" stroke="#333" stroke-width="0.22">***</text><text x="245.50" y="456.00" font-size="7.2" text-anchor="middle" textLength="6.00" lengthAdjust="spacingAndGlyphs" fill="#333" stroke="#333" stroke-width="0.22">**</text><text x="257.50" y="451.60" font-size="6.8" text-anchor="middle" textLength="9.60" lengthAdjust="spacingAndGlyphs" fill="#444" stroke="#444" stroke-width="0.22" font-style="italic">n.s.</text><text x="270.00" y="457.30" font-size="6.8" text-anchor="middle" textLength="9.60" lengthAdjust="spacingAndGlyphs" fill="#444" stroke="#444" stroke-width="0.22" font-style="italic">n.s.</text><text x="282.50" y="464.70" font-size="6.8" text-anchor="middle" textLength="9.60" lengthAdjust="spacingAndGlyphs" fill="#444" stroke="#444" stroke-width="0.22" font-style="italic">n.s.</text><text x="296.30" y="472.10" font-size="6.8" text-anchor="middle" textLength="9.60" lengthAdjust="spacingAndGlyphs" fill="#444" stroke="#444" stroke-width="0.22" font-style="italic">n.s.</text><line x1="362.70" y1="416.60" x2="362.70" y2="484.70" stroke="#111" stroke-width="1.4" /><line x1="362.20" y1="484.20" x2="463.50" y2="484.20" stroke="#111" stroke-width="1.4" /><line x1="359.50" y1="484.20" x2="362.70" y2="484.20" stroke="#111" stroke-width="1.2" /><text x="357.10" y="486.80" font-size="7.5" text-anchor="end" textLength="10.40" lengthAdjust="spacingAndGlyphs" stroke="#3b3b3b" stroke-width="0.22">10<tspan dy="-2.9" font-size="4.8">3</tspan></text><line x1="360.70" y1="480.35" x2="362.70" y2="480.35" stroke="#111" stroke-width="0.7" /><line x1="360.70" y1="478.09" x2="362.70" y2="478.09" stroke="#111" stroke-width="0.7" /><line x1="360.70" y1="476.49" x2="362.70" y2="476.49" stroke="#111" stroke-width="0.7" /><line x1="360.70" y1="475.25" x2="362.70" y2="475.25" stroke="#111" stroke-width="0.7" /><line x1="360.70" y1="474.24" x2="362.70" y2="474.24" stroke="#111" stroke-width="0.7" /><line x1="360.70" y1="473.38" x2="362.70" y2="473.38" stroke="#111" stroke-width="0.7" /><line x1="360.70" y1="472.64" x2="362.70" y2="472.64" stroke="#111" stroke-width="0.7" /><line x1="360.70" y1="471.99" x2="362.70" y2="471.99" stroke="#111" stroke-width="0.7" /><line x1="359.50" y1="471.40" x2="362.70" y2="471.40" stroke="#111" stroke-width="1.2" /><text x="357.10" y="474.00" font-size="7.5" text-anchor="end" textLength="10.40" lengthAdjust="spacingAndGlyphs" stroke="#3b3b3b" stroke-width="0.22">10<tspan dy="-2.9" font-size="4.8">4</tspan></text><line x1="360.70" y1="467.55" x2="362.70" y2="467.55" stroke="#111" stroke-width="0.7" /><line x1="360.70" y1="465.29" x2="362.70" y2="465.29" stroke="#111" stroke-width="0.7" /><line x1="360.70" y1="463.69" x2="362.70" y2="463.69" stroke="#111" stroke-width="0.7" /><line x1="360.70" y1="462.45" x2="362.70" y2="462.45" stroke="#111" stroke-width="0.7" /><line x1="360.70" y1="461.44" x2="362.70" y2="461.44" stroke="#111" stroke-width="0.7" /><line x1="360.70" y1="460.58" x2="362.70" y2="460.58" stroke="#111" stroke-width="0.7" /><line x1="360.70" y1="459.84" x2="362.70" y2="459.84" stroke="#111" stroke-width="0.7" /><line x1="360.70" y1="459.19" x2="362.70" y2="459.19" stroke="#111" stroke-width="0.7" /><line x1="359.50" y1="458.60" x2="362.70" y2="458.60" stroke="#111" stroke-width="1.2" /><text x="357.10" y="461.20" font-size="7.5" text-anchor="end" textLength="10.40" lengthAdjust="spacingAndGlyphs" stroke="#3b3b3b" stroke-width="0.22">10<tspan dy="-2.9" font-size="4.8">5</tspan></text><line x1="360.70" y1="454.75" x2="362.70" y2="454.75" stroke="#111" stroke-width="0.7" /><line x1="360.70" y1="452.49" x2="362.70" y2="452.49" stroke="#111" stroke-width="0.7" /><line x1="360.70" y1="450.89" x2="362.70" y2="450.89" stroke="#111" stroke-width="0.7" /><line x1="360.70" y1="449.65" x2="362.70" y2="449.65" stroke="#111" stroke-width="0.7" /><line x1="360.70" y1="448.64" x2="362.70" y2="448.64" stroke="#111" stroke-width="0.7" /><line x1="360.70" y1="447.78" x2="362.70" y2="447.78" stroke="#111" stroke-width="0.7" /><line x1="360.70" y1="447.04" x2="362.70" y2="447.04" stroke="#111" stroke-width="0.7" /><line x1="360.70" y1="446.39" x2="362.70" y2="446.39" stroke="#111" stroke-width="0.7" /><line x1="359.50" y1="445.80" x2="362.70" y2="445.80" stroke="#111" stroke-width="1.2" /><text x="357.10" y="448.40" font-size="7.5" text-anchor="end" textLength="10.40" lengthAdjust="spacingAndGlyphs" stroke="#3b3b3b" stroke-width="0.22">10<tspan dy="-2.9" font-size="4.8">6</tspan></text><line x1="360.70" y1="441.95" x2="362.70" y2="441.95" stroke="#111" stroke-width="0.7" /><line x1="360.70" y1="439.69" x2="362.70" y2="439.69" stroke="#111" stroke-width="0.7" /><line x1="360.70" y1="438.09" x2="362.70" y2="438.09" stroke="#111" stroke-width="0.7" /><line x1="360.70" y1="436.85" x2="362.70" y2="436.85" stroke="#111" stroke-width="0.7" /><line x1="360.70" y1="435.84" x2="362.70" y2="435.84" stroke="#111" stroke-width="0.7" /><line x1="360.70" y1="434.98" x2="362.70" y2="434.98" stroke="#111" stroke-width="0.7" /><line x1="360.70" y1="434.24" x2="362.70" y2="434.24" stroke="#111" stroke-width="0.7" /><line x1="360.70" y1="433.59" x2="362.70" y2="433.59" stroke="#111" stroke-width="0.7" /><line x1="359.50" y1="433.00" x2="362.70" y2="433.00" stroke="#111" stroke-width="1.2" /><text x="357.10" y="435.60" font-size="7.5" text-anchor="end" textLength="10.40" lengthAdjust="spacingAndGlyphs" stroke="#3b3b3b" stroke-width="0.22">10<tspan dy="-2.9" font-size="4.8">7</tspan></text><line x1="360.70" y1="429.15" x2="362.70" y2="429.15" stroke="#111" stroke-width="0.7" /><line x1="360.70" y1="426.89" x2="362.70" y2="426.89" stroke="#111" stroke-width="0.7" /><line x1="360.70" y1="425.29" x2="362.70" y2="425.29" stroke="#111" stroke-width="0.7" /><line x1="360.70" y1="424.05" x2="362.70" y2="424.05" stroke="#111" stroke-width="0.7" /><line x1="360.70" y1="423.04" x2="362.70" y2="423.04" stroke="#111" stroke-width="0.7" /><line x1="360.70" y1="422.18" x2="362.70" y2="422.18" stroke="#111" stroke-width="0.7" /><line x1="360.70" y1="421.44" x2="362.70" y2="421.44" stroke="#111" stroke-width="0.7" /><line x1="360.70" y1="420.79" x2="362.70" y2="420.79" stroke="#111" stroke-width="0.7" /><line x1="359.50" y1="420.20" x2="362.70" y2="420.20" stroke="#111" stroke-width="1.2" /><text x="357.10" y="422.80" font-size="7.5" text-anchor="end" textLength="10.40" lengthAdjust="spacingAndGlyphs" stroke="#3b3b3b" stroke-width="0.22">10<tspan dy="-2.9" font-size="4.8">8</tspan></text><line x1="368.90" y1="484.20" x2="368.90" y2="487.00" stroke="#111" stroke-width="1.2" /><text x="366.30" y="495.80" font-size="8.6" text-anchor="middle" textLength="7.20" lengthAdjust="spacingAndGlyphs" stroke="#3b3b3b" stroke-width="0.22">–1</text><line x1="381.55" y1="484.20" x2="381.55" y2="487.00" stroke="#111" stroke-width="1.2" /><text x="381.55" y="495.80" font-size="8.6" text-anchor="middle" textLength="4.10" lengthAdjust="spacingAndGlyphs" stroke="#3b3b3b" stroke-width="0.22">6</text><line x1="394.20" y1="484.20" x2="394.20" y2="487.00" stroke="#111" stroke-width="1.2" /><text x="394.20" y="495.80" font-size="8.6" text-anchor="middle" textLength="7.60" lengthAdjust="spacingAndGlyphs" stroke="#3b3b3b" stroke-width="0.22">10</text><line x1="406.85" y1="484.20" x2="406.85" y2="487.00" stroke="#111" stroke-width="1.2" /><text x="406.85" y="495.80" font-size="8.6" text-anchor="middle" textLength="7.60" lengthAdjust="spacingAndGlyphs" stroke="#3b3b3b" stroke-width="0.22">13</text><line x1="419.50" y1="484.20" x2="419.50" y2="487.00" stroke="#111" stroke-width="1.2" /><text x="419.50" y="495.80" font-size="8.6" text-anchor="middle" textLength="7.60" lengthAdjust="spacingAndGlyphs" stroke="#3b3b3b" stroke-width="0.22">20</text><line x1="432.15" y1="484.20" x2="432.15" y2="487.00" stroke="#111" stroke-width="1.2" /><text x="432.15" y="495.80" font-size="8.6" text-anchor="middle" textLength="7.60" lengthAdjust="spacingAndGlyphs" stroke="#3b3b3b" stroke-width="0.22">27</text><line x1="444.80" y1="484.20" x2="444.80" y2="487.00" stroke="#111" stroke-width="1.2" /><text x="444.80" y="495.80" font-size="8.6" text-anchor="middle" textLength="7.60" lengthAdjust="spacingAndGlyphs" stroke="#3b3b3b" stroke-width="0.22">34</text><line x1="457.45" y1="484.20" x2="457.45" y2="487.00" stroke="#111" stroke-width="1.2" /><text x="457.45" y="495.80" font-size="8.6" text-anchor="middle" textLength="7.60" lengthAdjust="spacingAndGlyphs" stroke="#3b3b3b" stroke-width="0.22">41</text><text x="413.00" y="508.80" font-size="8.6" text-anchor="middle" textLength="75.30" lengthAdjust="spacingAndGlyphs" stroke="#3b3b3b" stroke-width="0.22">Days post CAR-T injection</text><text x="332.00" y="450.00" font-size="8.2" text-anchor="middle" textLength="50.80" lengthAdjust="spacingAndGlyphs" stroke="#3b3b3b" stroke-width="0.22" transform="rotate(-90 332.00 450.00)">Average radiance</text><text x="341.00" y="449.50" font-size="8.2" text-anchor="middle" textLength="37.00" lengthAdjust="spacingAndGlyphs" stroke="#3b3b3b" stroke-width="0.22" transform="rotate(-90 341.00 449.50)">[p/s/cm<tspan dy="-2.6" font-size="5">2</tspan><tspan dy="2.6">/sr]</tspan></text><text x="369.60" y="423.40" font-size="7.6" textLength="26.50" lengthAdjust="spacingAndGlyphs" stroke="#3b3b3b" stroke-width="0.22">2.4×10<tspan dy="-3.2" font-size="5.2">6</tspan></text><line x1="394.20" y1="453.10" x2="394.20" y2="449.50" stroke="#111" stroke-width="1.0" /><line x1="392.20" y1="449.50" x2="396.20" y2="449.50" stroke="#111" stroke-width="1.1" /><line x1="406.85" y1="447.30" x2="406.85" y2="439.70" stroke="#111" stroke-width="1.0" /><line x1="404.85" y1="439.70" x2="408.85" y2="439.70" stroke="#111" stroke-width="1.1" /><line x1="419.50" y1="447.80" x2="419.50" y2="445.00" stroke="#111" stroke-width="1.0" /><line x1="417.50" y1="445.00" x2="421.50" y2="445.00" stroke="#111" stroke-width="1.1" /><line x1="444.80" y1="467.40" x2="444.80" y2="463.50" stroke="#111" stroke-width="1.0" /><line x1="442.80" y1="463.50" x2="446.80" y2="463.50" stroke="#111" stroke-width="1.1" /><line x1="381.55" y1="445.00" x2="381.55" y2="438.50" stroke="#111" stroke-width="1.0" /><line x1="379.55" y1="438.50" x2="383.55" y2="438.50" stroke="#111" stroke-width="1.1" /><line x1="394.20" y1="442.20" x2="394.20" y2="436.50" stroke="#111" stroke-width="1.0" /><line x1="392.20" y1="436.50" x2="396.20" y2="436.50" stroke="#111" stroke-width="1.1" /><line x1="406.85" y1="440.40" x2="406.85" y2="435.80" stroke="#111" stroke-width="1.0" /><line x1="404.85" y1="435.80" x2="408.85" y2="435.80" stroke="#111" stroke-width="1.1" /><line x1="419.50" y1="439.70" x2="419.50" y2="436.50" stroke="#111" stroke-width="1.0" /><line x1="417.50" y1="436.50" x2="421.50" y2="436.50" stroke="#111" stroke-width="1.1" /><line x1="432.15" y1="450.80" x2="432.15" y2="446.20" stroke="#111" stroke-width="1.0" /><line x1="430.15" y1="446.20" x2="434.15" y2="446.20" stroke="#111" stroke-width="1.1" /><line x1="444.80" y1="455.40" x2="444.80" y2="448.50" stroke="#111" stroke-width="1.0" /><line x1="442.80" y1="448.50" x2="446.80" y2="448.50" stroke="#111" stroke-width="1.1" /><line x1="457.45" y1="460.50" x2="457.45" y2="453.50" stroke="#111" stroke-width="1.0" /><line x1="455.45" y1="453.50" x2="459.45" y2="453.50" stroke="#111" stroke-width="1.1" /><line x1="394.20" y1="432.80" x2="394.20" y2="430.20" stroke="#111" stroke-width="1.0" /><line x1="392.20" y1="430.20" x2="396.20" y2="430.20" stroke="#111" stroke-width="1.1" /><line x1="406.85" y1="424.20" x2="406.85" y2="421.90" stroke="#111" stroke-width="1.0" /><line x1="404.85" y1="421.90" x2="408.85" y2="421.90" stroke="#111" stroke-width="1.1" /><path d="M368.90,470.40 L381.55,439.70 L394.20,432.80 L406.85,424.20" stroke="#2fae5a" stroke-width="1.7" fill="none" /><path d="M368.90,470.40 L381.55,445.00 L394.20,442.20 L406.85,440.40 L419.50,439.70 L432.15,450.80 L444.80,455.40 L457.45,460.50" stroke="#1f5f86" stroke-width="1.7" fill="none" /><path d="M368.90,470.40 L381.55,446.20 L394.20,453.10 L406.85,447.30 L419.50,447.80 L432.15,454.20 L444.80,467.40 L457.45,466.50" stroke="#d8204e" stroke-width="1.7" fill="none" /><path d="M367.10,468.90 L370.70,468.90 L368.90,472.00 Z" stroke="none" stroke-width="1" fill="#222" /><text x="382.30" y="463.00" font-size="6.8" text-anchor="middle" textLength="9.60" lengthAdjust="spacingAndGlyphs" fill="#444" stroke="#444" stroke-width="0.22" font-style="italic">n.s.</text><text x="394.30" y="462.70" font-size="7.2" text-anchor="middle" textLength="6.00" lengthAdjust="spacingAndGlyphs" fill="#333" stroke="#333" stroke-width="0.22">**</text><text x="407.60" y="455.20" font-size="7.2" text-anchor="middle" textLength="3.00" lengthAdjust="spacingAndGlyphs" fill="#333" stroke="#333" stroke-width="0.22">*</text><text x="419.00" y="457.20" font-size="6.8" text-anchor="middle" textLength="9.60" lengthAdjust="spacingAndGlyphs" fill="#444" stroke="#444" stroke-width="0.22" font-style="italic">n.s.</text><text x="431.20" y="467.60" font-size="6.8" text-anchor="middle" textLength="9.60" lengthAdjust="spacingAndGlyphs" fill="#444" stroke="#444" stroke-width="0.22" font-style="italic">n.s.</text><text x="443.80" y="476.80" font-size="6.8" text-anchor="middle" textLength="9.60" lengthAdjust="spacingAndGlyphs" fill="#444" stroke="#444" stroke-width="0.22" font-style="italic">n.s.</text><text x="457.20" y="473.80" font-size="6.8" text-anchor="middle" textLength="9.60" lengthAdjust="spacingAndGlyphs" fill="#444" stroke="#444" stroke-width="0.22" font-style="italic">n.s.</text><line x1="458.80" y1="416.60" x2="467.20" y2="416.60" stroke="#d8204e" stroke-width="1.5" /><text x="471.50" y="419.30" font-size="7.6" textLength="32.40" lengthAdjust="spacingAndGlyphs" stroke="#3b3b3b" stroke-width="0.22">N1 CD4+</text><line x1="458.80" y1="427.20" x2="467.20" y2="427.20" stroke="#1f5f86" stroke-width="1.5" /><text x="471.50" y="429.90" font-size="7.6" textLength="48.00" lengthAdjust="spacingAndGlyphs" stroke="#3b3b3b" stroke-width="0.22">Control CD4+</text><line x1="458.80" y1="437.00" x2="467.20" y2="437.00" stroke="#2fae5a" stroke-width="1.5" /><text x="471.50" y="439.70" font-size="7.6" textLength="13.50" lengthAdjust="spacingAndGlyphs" stroke="#3b3b3b" stroke-width="0.22">PBS</text>
</svg></body></html>
